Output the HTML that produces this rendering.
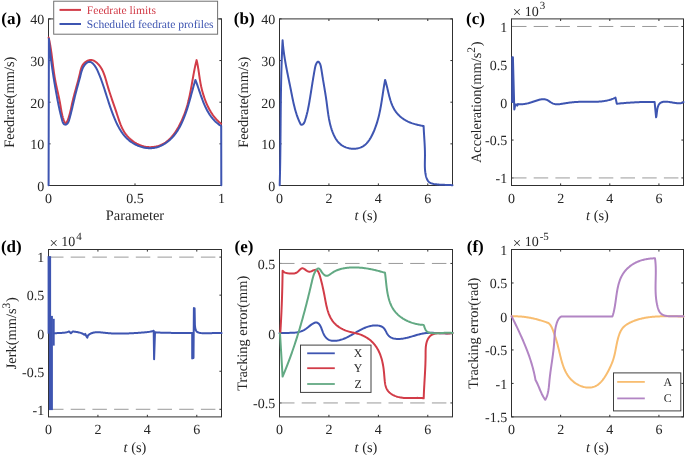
<!DOCTYPE html>
<html><head><meta charset="utf-8"><style>
html,body{margin:0;padding:0;background:#fff;}
svg{display:block;filter:blur(0.25px);font-family:"Liberation Serif",serif;text-rendering:geometricPrecision;}
</style></head><body>
<svg width="685" height="456" viewBox="0 0 685 456">
<rect width="685" height="456" fill="#fff"/>
<line x1="48.5" y1="185.5" x2="48.5" y2="183.4" stroke="#303030" stroke-width="1"/>
<line x1="48.5" y1="18.9" x2="48.5" y2="21" stroke="#303030" stroke-width="1"/>
<line x1="135" y1="185.5" x2="135" y2="183.4" stroke="#303030" stroke-width="1"/>
<line x1="135" y1="18.9" x2="135" y2="21" stroke="#303030" stroke-width="1"/>
<line x1="221.5" y1="185.5" x2="221.5" y2="183.4" stroke="#303030" stroke-width="1"/>
<line x1="221.5" y1="18.9" x2="221.5" y2="21" stroke="#303030" stroke-width="1"/>
<line x1="48.5" y1="185.5" x2="50.6" y2="185.5" stroke="#303030" stroke-width="1"/>
<line x1="221.5" y1="185.5" x2="219.4" y2="185.5" stroke="#303030" stroke-width="1"/>
<line x1="48.5" y1="143.85" x2="50.6" y2="143.85" stroke="#303030" stroke-width="1"/>
<line x1="221.5" y1="143.85" x2="219.4" y2="143.85" stroke="#303030" stroke-width="1"/>
<line x1="48.5" y1="102.2" x2="50.6" y2="102.2" stroke="#303030" stroke-width="1"/>
<line x1="221.5" y1="102.2" x2="219.4" y2="102.2" stroke="#303030" stroke-width="1"/>
<line x1="48.5" y1="60.55" x2="50.6" y2="60.55" stroke="#303030" stroke-width="1"/>
<line x1="221.5" y1="60.55" x2="219.4" y2="60.55" stroke="#303030" stroke-width="1"/>
<line x1="48.5" y1="18.9" x2="50.6" y2="18.9" stroke="#303030" stroke-width="1"/>
<line x1="221.5" y1="18.9" x2="219.4" y2="18.9" stroke="#303030" stroke-width="1"/>
<text x="48.5" y="202.7" font-size="14" text-anchor="middle" fill="#262626" font-weight="normal">0</text>
<text x="135" y="202.7" font-size="14" text-anchor="middle" fill="#262626" font-weight="normal">0.5</text>
<text x="221.5" y="202.7" font-size="14" text-anchor="middle" fill="#262626" font-weight="normal">1</text>
<text x="44.2" y="190.8" font-size="14" text-anchor="end" fill="#262626" font-weight="normal">0</text>
<text x="44.2" y="149.15" font-size="14" text-anchor="end" fill="#262626" font-weight="normal">10</text>
<text x="44.2" y="107.5" font-size="14" text-anchor="end" fill="#262626" font-weight="normal">20</text>
<text x="44.2" y="65.85" font-size="14" text-anchor="end" fill="#262626" font-weight="normal">30</text>
<text x="44.2" y="24.2" font-size="14" text-anchor="end" fill="#262626" font-weight="normal">40</text>
<line x1="279.5" y1="185.5" x2="279.5" y2="183.4" stroke="#303030" stroke-width="1"/>
<line x1="279.5" y1="18.9" x2="279.5" y2="21" stroke="#303030" stroke-width="1"/>
<line x1="328.93" y1="185.5" x2="328.93" y2="183.4" stroke="#303030" stroke-width="1"/>
<line x1="328.93" y1="18.9" x2="328.93" y2="21" stroke="#303030" stroke-width="1"/>
<line x1="378.36" y1="185.5" x2="378.36" y2="183.4" stroke="#303030" stroke-width="1"/>
<line x1="378.36" y1="18.9" x2="378.36" y2="21" stroke="#303030" stroke-width="1"/>
<line x1="427.79" y1="185.5" x2="427.79" y2="183.4" stroke="#303030" stroke-width="1"/>
<line x1="427.79" y1="18.9" x2="427.79" y2="21" stroke="#303030" stroke-width="1"/>
<line x1="279.5" y1="185.5" x2="281.6" y2="185.5" stroke="#303030" stroke-width="1"/>
<line x1="452.5" y1="185.5" x2="450.4" y2="185.5" stroke="#303030" stroke-width="1"/>
<line x1="279.5" y1="143.85" x2="281.6" y2="143.85" stroke="#303030" stroke-width="1"/>
<line x1="452.5" y1="143.85" x2="450.4" y2="143.85" stroke="#303030" stroke-width="1"/>
<line x1="279.5" y1="102.2" x2="281.6" y2="102.2" stroke="#303030" stroke-width="1"/>
<line x1="452.5" y1="102.2" x2="450.4" y2="102.2" stroke="#303030" stroke-width="1"/>
<line x1="279.5" y1="60.55" x2="281.6" y2="60.55" stroke="#303030" stroke-width="1"/>
<line x1="452.5" y1="60.55" x2="450.4" y2="60.55" stroke="#303030" stroke-width="1"/>
<line x1="279.5" y1="18.9" x2="281.6" y2="18.9" stroke="#303030" stroke-width="1"/>
<line x1="452.5" y1="18.9" x2="450.4" y2="18.9" stroke="#303030" stroke-width="1"/>
<text x="279.5" y="202.7" font-size="14" text-anchor="middle" fill="#262626" font-weight="normal">0</text>
<text x="328.93" y="202.7" font-size="14" text-anchor="middle" fill="#262626" font-weight="normal">2</text>
<text x="378.36" y="202.7" font-size="14" text-anchor="middle" fill="#262626" font-weight="normal">4</text>
<text x="427.79" y="202.7" font-size="14" text-anchor="middle" fill="#262626" font-weight="normal">6</text>
<text x="275.2" y="190.8" font-size="14" text-anchor="end" fill="#262626" font-weight="normal">0</text>
<text x="275.2" y="149.15" font-size="14" text-anchor="end" fill="#262626" font-weight="normal">10</text>
<text x="275.2" y="107.5" font-size="14" text-anchor="end" fill="#262626" font-weight="normal">20</text>
<text x="275.2" y="65.85" font-size="14" text-anchor="end" fill="#262626" font-weight="normal">30</text>
<text x="275.2" y="24.2" font-size="14" text-anchor="end" fill="#262626" font-weight="normal">40</text>
<line x1="511.5" y1="185.5" x2="511.5" y2="183.4" stroke="#303030" stroke-width="1"/>
<line x1="511.5" y1="18.9" x2="511.5" y2="21" stroke="#303030" stroke-width="1"/>
<line x1="560.64" y1="185.5" x2="560.64" y2="183.4" stroke="#303030" stroke-width="1"/>
<line x1="560.64" y1="18.9" x2="560.64" y2="21" stroke="#303030" stroke-width="1"/>
<line x1="609.79" y1="185.5" x2="609.79" y2="183.4" stroke="#303030" stroke-width="1"/>
<line x1="609.79" y1="18.9" x2="609.79" y2="21" stroke="#303030" stroke-width="1"/>
<line x1="658.93" y1="185.5" x2="658.93" y2="183.4" stroke="#303030" stroke-width="1"/>
<line x1="658.93" y1="18.9" x2="658.93" y2="21" stroke="#303030" stroke-width="1"/>
<line x1="511.5" y1="177.93" x2="513.6" y2="177.93" stroke="#303030" stroke-width="1"/>
<line x1="683.5" y1="177.93" x2="681.4" y2="177.93" stroke="#303030" stroke-width="1"/>
<line x1="511.5" y1="140.06" x2="513.6" y2="140.06" stroke="#303030" stroke-width="1"/>
<line x1="683.5" y1="140.06" x2="681.4" y2="140.06" stroke="#303030" stroke-width="1"/>
<line x1="511.5" y1="102.2" x2="513.6" y2="102.2" stroke="#303030" stroke-width="1"/>
<line x1="683.5" y1="102.2" x2="681.4" y2="102.2" stroke="#303030" stroke-width="1"/>
<line x1="511.5" y1="64.34" x2="513.6" y2="64.34" stroke="#303030" stroke-width="1"/>
<line x1="683.5" y1="64.34" x2="681.4" y2="64.34" stroke="#303030" stroke-width="1"/>
<line x1="511.5" y1="26.47" x2="513.6" y2="26.47" stroke="#303030" stroke-width="1"/>
<line x1="683.5" y1="26.47" x2="681.4" y2="26.47" stroke="#303030" stroke-width="1"/>
<text x="511.5" y="202.7" font-size="14" text-anchor="middle" fill="#262626" font-weight="normal">0</text>
<text x="560.64" y="202.7" font-size="14" text-anchor="middle" fill="#262626" font-weight="normal">2</text>
<text x="609.79" y="202.7" font-size="14" text-anchor="middle" fill="#262626" font-weight="normal">4</text>
<text x="658.93" y="202.7" font-size="14" text-anchor="middle" fill="#262626" font-weight="normal">6</text>
<text x="507.2" y="183.23" font-size="14" text-anchor="end" fill="#262626" font-weight="normal">-1</text>
<text x="507.2" y="145.36" font-size="14" text-anchor="end" fill="#262626" font-weight="normal">-0.5</text>
<text x="507.2" y="107.5" font-size="14" text-anchor="end" fill="#262626" font-weight="normal">0</text>
<text x="507.2" y="69.64" font-size="14" text-anchor="end" fill="#262626" font-weight="normal">0.5</text>
<text x="507.2" y="31.77" font-size="14" text-anchor="end" fill="#262626" font-weight="normal">1</text>
<line x1="48.5" y1="416.9" x2="48.5" y2="414.8" stroke="#303030" stroke-width="1"/>
<line x1="48.5" y1="249.5" x2="48.5" y2="251.6" stroke="#303030" stroke-width="1"/>
<line x1="97.93" y1="416.9" x2="97.93" y2="414.8" stroke="#303030" stroke-width="1"/>
<line x1="97.93" y1="249.5" x2="97.93" y2="251.6" stroke="#303030" stroke-width="1"/>
<line x1="147.36" y1="416.9" x2="147.36" y2="414.8" stroke="#303030" stroke-width="1"/>
<line x1="147.36" y1="249.5" x2="147.36" y2="251.6" stroke="#303030" stroke-width="1"/>
<line x1="196.79" y1="416.9" x2="196.79" y2="414.8" stroke="#303030" stroke-width="1"/>
<line x1="196.79" y1="249.5" x2="196.79" y2="251.6" stroke="#303030" stroke-width="1"/>
<line x1="48.5" y1="409.29" x2="50.6" y2="409.29" stroke="#303030" stroke-width="1"/>
<line x1="221.5" y1="409.29" x2="219.4" y2="409.29" stroke="#303030" stroke-width="1"/>
<line x1="48.5" y1="371.25" x2="50.6" y2="371.25" stroke="#303030" stroke-width="1"/>
<line x1="221.5" y1="371.25" x2="219.4" y2="371.25" stroke="#303030" stroke-width="1"/>
<line x1="48.5" y1="333.2" x2="50.6" y2="333.2" stroke="#303030" stroke-width="1"/>
<line x1="221.5" y1="333.2" x2="219.4" y2="333.2" stroke="#303030" stroke-width="1"/>
<line x1="48.5" y1="295.15" x2="50.6" y2="295.15" stroke="#303030" stroke-width="1"/>
<line x1="221.5" y1="295.15" x2="219.4" y2="295.15" stroke="#303030" stroke-width="1"/>
<line x1="48.5" y1="257.11" x2="50.6" y2="257.11" stroke="#303030" stroke-width="1"/>
<line x1="221.5" y1="257.11" x2="219.4" y2="257.11" stroke="#303030" stroke-width="1"/>
<text x="48.5" y="434.1" font-size="14" text-anchor="middle" fill="#262626" font-weight="normal">0</text>
<text x="97.93" y="434.1" font-size="14" text-anchor="middle" fill="#262626" font-weight="normal">2</text>
<text x="147.36" y="434.1" font-size="14" text-anchor="middle" fill="#262626" font-weight="normal">4</text>
<text x="196.79" y="434.1" font-size="14" text-anchor="middle" fill="#262626" font-weight="normal">6</text>
<text x="44.2" y="414.59" font-size="14" text-anchor="end" fill="#262626" font-weight="normal">-1</text>
<text x="44.2" y="376.55" font-size="14" text-anchor="end" fill="#262626" font-weight="normal">-0.5</text>
<text x="44.2" y="338.5" font-size="14" text-anchor="end" fill="#262626" font-weight="normal">0</text>
<text x="44.2" y="300.45" font-size="14" text-anchor="end" fill="#262626" font-weight="normal">0.5</text>
<text x="44.2" y="262.41" font-size="14" text-anchor="end" fill="#262626" font-weight="normal">1</text>
<line x1="279.5" y1="416.9" x2="279.5" y2="414.8" stroke="#303030" stroke-width="1"/>
<line x1="279.5" y1="249.5" x2="279.5" y2="251.6" stroke="#303030" stroke-width="1"/>
<line x1="328.93" y1="416.9" x2="328.93" y2="414.8" stroke="#303030" stroke-width="1"/>
<line x1="328.93" y1="249.5" x2="328.93" y2="251.6" stroke="#303030" stroke-width="1"/>
<line x1="378.36" y1="416.9" x2="378.36" y2="414.8" stroke="#303030" stroke-width="1"/>
<line x1="378.36" y1="249.5" x2="378.36" y2="251.6" stroke="#303030" stroke-width="1"/>
<line x1="427.79" y1="416.9" x2="427.79" y2="414.8" stroke="#303030" stroke-width="1"/>
<line x1="427.79" y1="249.5" x2="427.79" y2="251.6" stroke="#303030" stroke-width="1"/>
<line x1="279.5" y1="402.95" x2="281.6" y2="402.95" stroke="#303030" stroke-width="1"/>
<line x1="452.5" y1="402.95" x2="450.4" y2="402.95" stroke="#303030" stroke-width="1"/>
<line x1="279.5" y1="333.2" x2="281.6" y2="333.2" stroke="#303030" stroke-width="1"/>
<line x1="452.5" y1="333.2" x2="450.4" y2="333.2" stroke="#303030" stroke-width="1"/>
<line x1="279.5" y1="263.45" x2="281.6" y2="263.45" stroke="#303030" stroke-width="1"/>
<line x1="452.5" y1="263.45" x2="450.4" y2="263.45" stroke="#303030" stroke-width="1"/>
<text x="279.5" y="434.1" font-size="14" text-anchor="middle" fill="#262626" font-weight="normal">0</text>
<text x="328.93" y="434.1" font-size="14" text-anchor="middle" fill="#262626" font-weight="normal">2</text>
<text x="378.36" y="434.1" font-size="14" text-anchor="middle" fill="#262626" font-weight="normal">4</text>
<text x="427.79" y="434.1" font-size="14" text-anchor="middle" fill="#262626" font-weight="normal">6</text>
<text x="275.2" y="408.25" font-size="14" text-anchor="end" fill="#262626" font-weight="normal">-0.5</text>
<text x="275.2" y="338.5" font-size="14" text-anchor="end" fill="#262626" font-weight="normal">0</text>
<text x="275.2" y="268.75" font-size="14" text-anchor="end" fill="#262626" font-weight="normal">0.5</text>
<line x1="511.5" y1="416.9" x2="511.5" y2="414.8" stroke="#303030" stroke-width="1"/>
<line x1="511.5" y1="249.5" x2="511.5" y2="251.6" stroke="#303030" stroke-width="1"/>
<line x1="560.64" y1="416.9" x2="560.64" y2="414.8" stroke="#303030" stroke-width="1"/>
<line x1="560.64" y1="249.5" x2="560.64" y2="251.6" stroke="#303030" stroke-width="1"/>
<line x1="609.79" y1="416.9" x2="609.79" y2="414.8" stroke="#303030" stroke-width="1"/>
<line x1="609.79" y1="249.5" x2="609.79" y2="251.6" stroke="#303030" stroke-width="1"/>
<line x1="658.93" y1="416.9" x2="658.93" y2="414.8" stroke="#303030" stroke-width="1"/>
<line x1="658.93" y1="249.5" x2="658.93" y2="251.6" stroke="#303030" stroke-width="1"/>
<line x1="511.5" y1="416.9" x2="513.6" y2="416.9" stroke="#303030" stroke-width="1"/>
<line x1="683.5" y1="416.9" x2="681.4" y2="416.9" stroke="#303030" stroke-width="1"/>
<line x1="511.5" y1="383.42" x2="513.6" y2="383.42" stroke="#303030" stroke-width="1"/>
<line x1="683.5" y1="383.42" x2="681.4" y2="383.42" stroke="#303030" stroke-width="1"/>
<line x1="511.5" y1="349.94" x2="513.6" y2="349.94" stroke="#303030" stroke-width="1"/>
<line x1="683.5" y1="349.94" x2="681.4" y2="349.94" stroke="#303030" stroke-width="1"/>
<line x1="511.5" y1="316.46" x2="513.6" y2="316.46" stroke="#303030" stroke-width="1"/>
<line x1="683.5" y1="316.46" x2="681.4" y2="316.46" stroke="#303030" stroke-width="1"/>
<line x1="511.5" y1="282.98" x2="513.6" y2="282.98" stroke="#303030" stroke-width="1"/>
<line x1="683.5" y1="282.98" x2="681.4" y2="282.98" stroke="#303030" stroke-width="1"/>
<line x1="511.5" y1="249.5" x2="513.6" y2="249.5" stroke="#303030" stroke-width="1"/>
<line x1="683.5" y1="249.5" x2="681.4" y2="249.5" stroke="#303030" stroke-width="1"/>
<text x="511.5" y="434.1" font-size="14" text-anchor="middle" fill="#262626" font-weight="normal">0</text>
<text x="560.64" y="434.1" font-size="14" text-anchor="middle" fill="#262626" font-weight="normal">2</text>
<text x="609.79" y="434.1" font-size="14" text-anchor="middle" fill="#262626" font-weight="normal">4</text>
<text x="658.93" y="434.1" font-size="14" text-anchor="middle" fill="#262626" font-weight="normal">6</text>
<text x="507.2" y="422.2" font-size="14" text-anchor="end" fill="#262626" font-weight="normal">-1.5</text>
<text x="507.2" y="388.72" font-size="14" text-anchor="end" fill="#262626" font-weight="normal">-1</text>
<text x="507.2" y="355.24" font-size="14" text-anchor="end" fill="#262626" font-weight="normal">-0.5</text>
<text x="507.2" y="321.76" font-size="14" text-anchor="end" fill="#262626" font-weight="normal">0</text>
<text x="507.2" y="288.28" font-size="14" text-anchor="end" fill="#262626" font-weight="normal">0.5</text>
<text x="507.2" y="254.8" font-size="14" text-anchor="end" fill="#262626" font-weight="normal">1</text>
<rect x="48.5" y="18.9" width="173" height="166.6" fill="none" stroke="#303030" stroke-width="1"/>
<rect x="48.5" y="249.5" width="173" height="167.4" fill="none" stroke="#303030" stroke-width="1"/>
<rect x="279.5" y="18.9" width="173" height="166.6" fill="none" stroke="#303030" stroke-width="1"/>
<rect x="279.5" y="249.5" width="173" height="167.4" fill="none" stroke="#303030" stroke-width="1"/>
<rect x="511.5" y="18.9" width="172" height="166.6" fill="none" stroke="#303030" stroke-width="1"/>
<rect x="511.5" y="249.5" width="172" height="167.4" fill="none" stroke="#303030" stroke-width="1"/>
<line x1="512" y1="26.47" x2="683.5" y2="26.47" stroke="#9a9a9a" stroke-width="1" stroke-dasharray="14.5 7.2"/>
<line x1="512" y1="177.93" x2="683.5" y2="177.93" stroke="#9a9a9a" stroke-width="1" stroke-dasharray="14.5 7.2"/>
<line x1="49" y1="257.11" x2="221.5" y2="257.11" stroke="#9a9a9a" stroke-width="1" stroke-dasharray="14.5 7.2"/>
<line x1="49" y1="409.29" x2="221.5" y2="409.29" stroke="#9a9a9a" stroke-width="1" stroke-dasharray="14.5 7.2"/>
<line x1="280" y1="263.45" x2="452.5" y2="263.45" stroke="#9a9a9a" stroke-width="1" stroke-dasharray="14.5 7.2"/>
<line x1="280" y1="402.95" x2="452.5" y2="402.95" stroke="#9a9a9a" stroke-width="1" stroke-dasharray="14.5 7.2"/>
<path d="M48.6 37.4L48.78 38.18L48.96 38.96L49.14 39.74L49.31 40.52L49.47 41.31L49.63 42.09L49.78 42.88L49.93 43.66L50.08 44.45L50.22 45.24L50.36 46.03L50.49 46.82L50.62 47.61L50.75 48.41L50.87 49.2L50.99 50L51.11 50.79L51.23 51.59L51.34 52.38L51.45 53.18L51.56 53.98L51.67 54.77L51.77 55.57L51.88 56.37L51.98 57.17L52.08 57.97L52.18 58.77L52.28 59.57L52.38 60.37L52.48 61.17L52.58 61.97L52.68 62.77L52.78 63.57L52.88 64.37L52.98 65.16L53.08 65.96L53.18 66.76L53.28 67.56L53.38 68.36L53.49 69.16L53.59 69.95L53.7 70.75L53.81 71.55L53.93 72.34L54.04 73.14L54.16 73.93L54.28 74.73L54.4 75.52L54.53 76.31L54.66 77.1L54.79 77.89L54.93 78.68L55.07 79.47L55.21 80.26L55.36 81.05L55.51 81.83L55.67 82.62L55.83 83.4L55.99 84.18L56.15 84.97L56.32 85.75L56.49 86.53L56.66 87.31L56.83 88.09L57.01 88.87L57.18 89.66L57.36 90.44L57.53 91.22L57.71 92L57.88 92.78L58.06 93.57L58.23 94.35L58.4 95.13L58.58 95.92L58.75 96.71L58.91 97.49L59.08 98.28L59.24 99.07L59.4 99.86L59.56 100.65L59.71 101.45L59.86 102.24L60.01 103.04L60.15 103.84L60.29 104.64L60.43 105.44L60.56 106.25L60.69 107.05L60.83 107.85L60.96 108.65L61.1 109.45L61.24 110.25L61.38 111.05L61.53 111.84L61.69 112.64L61.85 113.42L62.03 114.21L62.21 114.99L62.4 115.76L62.61 116.53L62.82 117.29L63.05 118.05L63.3 118.8L63.56 119.54L63.84 120.28L64.14 121.01L64.45 121.72L64.79 122.43L65.16 123.06L65.6 123.31L66.13 123.05L66.63 122.5L67.06 121.8L67.42 121.01L67.75 120.19L68.05 119.36L68.34 118.54L68.61 117.73L68.87 116.93L69.12 116.13L69.35 115.34L69.57 114.56L69.78 113.78L69.98 113L70.17 112.23L70.36 111.46L70.53 110.7L70.71 109.93L70.88 109.17L71.04 108.41L71.21 107.64L71.37 106.88L71.53 106.12L71.7 105.35L71.87 104.58L72.03 103.81L72.21 103.03L72.39 102.25L72.57 101.46L72.76 100.68L72.95 99.89L73.14 99.1L73.33 98.31L73.53 97.52L73.73 96.73L73.94 95.94L74.14 95.15L74.35 94.37L74.56 93.58L74.77 92.8L74.98 92.02L75.19 91.24L75.41 90.46L75.62 89.69L75.84 88.91L76.05 88.14L76.26 87.37L76.48 86.59L76.69 85.82L76.9 85.05L77.12 84.28L77.33 83.51L77.54 82.74L77.75 81.96L77.95 81.19L78.16 80.42L78.36 79.65L78.56 78.87L78.76 78.1L78.95 77.32L79.15 76.54L79.34 75.76L79.52 74.98L79.71 74.2L79.89 73.41L80.06 72.63L80.24 71.84L80.42 71.06L80.62 70.28L80.83 69.5L81.06 68.74L81.31 67.98L81.6 67.24L81.92 66.51L82.28 65.79L82.68 65.1L83.13 64.42L83.64 63.77L84.21 63.15L84.82 62.55L85.48 62L86.17 61.5L86.9 61.05L87.65 60.67L88.42 60.36L89.21 60.13L89.99 59.98L90.78 59.93L91.56 59.98L92.32 60.13L93.07 60.38L93.8 60.7L94.52 61.09L95.2 61.53L95.87 62.01L96.51 62.53L97.12 63.06L97.7 63.61L98.26 64.18L98.79 64.76L99.3 65.37L99.78 65.98L100.25 66.61L100.69 67.26L101.11 67.92L101.51 68.59L101.89 69.27L102.26 69.97L102.61 70.68L102.94 71.39L103.26 72.12L103.57 72.85L103.86 73.6L104.14 74.35L104.41 75.1L104.68 75.87L104.93 76.63L105.18 77.41L105.42 78.19L105.65 78.97L105.88 79.75L106.11 80.54L106.33 81.32L106.55 82.11L106.77 82.9L106.99 83.69L107.22 84.47L107.44 85.26L107.67 86.04L107.9 86.82L108.13 87.59L108.37 88.37L108.6 89.14L108.84 89.92L109.09 90.68L109.33 91.45L109.58 92.22L109.83 92.99L110.08 93.75L110.33 94.51L110.58 95.27L110.83 96.03L111.09 96.79L111.35 97.55L111.6 98.31L111.86 99.07L112.12 99.82L112.38 100.58L112.64 101.33L112.9 102.09L113.16 102.84L113.42 103.6L113.68 104.35L113.94 105.11L114.2 105.86L114.46 106.62L114.72 107.38L114.98 108.13L115.24 108.89L115.5 109.65L115.76 110.4L116.01 111.16L116.27 111.92L116.52 112.68L116.77 113.45L117.02 114.21L117.27 114.97L117.52 115.74L117.77 116.5L118.02 117.27L118.27 118.04L118.52 118.8L118.78 119.56L119.04 120.32L119.3 121.08L119.57 121.84L119.85 122.59L120.13 123.34L120.42 124.09L120.71 124.83L121.02 125.57L121.33 126.31L121.66 127.03L121.99 127.76L122.34 128.47L122.69 129.18L123.07 129.88L123.45 130.58L123.85 131.27L124.26 131.95L124.69 132.62L125.14 133.28L125.6 133.93L126.08 134.57L126.58 135.2L127.1 135.83L127.63 136.44L128.18 137.04L128.74 137.62L129.33 138.2L129.92 138.76L130.53 139.3L131.16 139.84L131.79 140.35L132.44 140.86L133.11 141.34L133.78 141.82L134.46 142.27L135.16 142.71L135.87 143.13L136.58 143.53L137.31 143.91L138.04 144.28L138.78 144.62L139.53 144.95L140.28 145.25L141.05 145.54L141.81 145.8L142.59 146.04L143.36 146.25L144.15 146.45L144.93 146.62L145.72 146.77L146.51 146.89L147.31 146.99L148.1 147.06L148.9 147.11L149.69 147.14L150.49 147.14L151.28 147.12L152.08 147.07L152.87 147.01L153.66 146.92L154.44 146.8L155.22 146.67L156 146.51L156.77 146.33L157.54 146.12L158.3 145.9L159.05 145.65L159.79 145.38L160.53 145.1L161.26 144.79L161.97 144.46L162.68 144.1L163.38 143.73L164.07 143.34L164.74 142.93L165.4 142.5L166.05 142.05L166.69 141.58L167.31 141.09L167.93 140.59L168.53 140.07L169.12 139.53L169.7 138.98L170.26 138.41L170.82 137.83L171.36 137.24L171.9 136.63L172.42 136.01L172.94 135.38L173.44 134.74L173.93 134.08L174.42 133.42L174.89 132.75L175.36 132.08L175.81 131.39L176.26 130.7L176.7 130L177.13 129.3L177.55 128.59L177.96 127.87L178.37 127.16L178.76 126.44L179.15 125.71L179.54 124.99L179.91 124.27L180.28 123.54L180.64 122.81L180.99 122.09L181.34 121.36L181.68 120.63L182.01 119.9L182.34 119.17L182.66 118.43L182.97 117.7L183.28 116.96L183.58 116.23L183.88 115.49L184.17 114.75L184.45 114.01L184.73 113.26L185 112.52L185.26 111.77L185.52 111.02L185.77 110.27L186.02 109.52L186.26 108.76L186.5 108.01L186.73 107.25L186.96 106.49L187.18 105.72L187.39 104.96L187.61 104.19L187.81 103.42L188.01 102.65L188.21 101.88L188.41 101.1L188.59 100.32L188.78 99.54L188.96 98.76L189.14 97.98L189.31 97.2L189.48 96.41L189.65 95.63L189.82 94.84L189.98 94.05L190.14 93.26L190.3 92.47L190.45 91.68L190.6 90.88L190.76 90.09L190.9 89.3L191.05 88.5L191.2 87.71L191.34 86.91L191.48 86.11L191.63 85.32L191.77 84.52L191.91 83.72L192.05 82.93L192.19 82.13L192.33 81.33L192.47 80.53L192.61 79.74L192.75 78.94L192.89 78.14L193.03 77.35L193.17 76.55L193.31 75.76L193.46 74.96L193.6 74.17L193.75 73.38L193.89 72.59L194.04 71.8L194.19 71.01L194.35 70.22L194.5 69.43L194.66 68.64L194.82 67.86L194.98 67.08L195.15 66.29L195.32 65.51L195.49 64.73L195.67 63.96L195.85 63.18L196.03 62.41L196.22 61.64L196.41 60.87L196.6 60.1L196.6 60.1L196.79 60.89L196.97 61.69L197.14 62.49L197.31 63.28L197.47 64.08L197.62 64.88L197.77 65.68L197.91 66.49L198.04 67.29L198.18 68.09L198.3 68.9L198.43 69.7L198.55 70.51L198.67 71.32L198.79 72.12L198.91 72.93L199.02 73.73L199.14 74.54L199.25 75.34L199.37 76.15L199.49 76.95L199.61 77.76L199.73 78.56L199.86 79.36L199.99 80.16L200.12 80.96L200.26 81.76L200.4 82.56L200.54 83.36L200.69 84.15L200.85 84.95L201.01 85.74L201.17 86.53L201.35 87.32L201.53 88.11L201.71 88.9L201.9 89.69L202.1 90.47L202.31 91.26L202.53 92.04L202.75 92.82L202.98 93.6L203.22 94.38L203.46 95.15L203.71 95.93L203.96 96.7L204.23 97.47L204.5 98.24L204.77 99.01L205.05 99.78L205.34 100.54L205.64 101.31L205.94 102.07L206.25 102.82L206.57 103.58L206.9 104.33L207.23 105.07L207.57 105.82L207.92 106.55L208.28 107.29L208.65 108.02L209.02 108.74L209.41 109.46L209.8 110.17L210.2 110.87L210.62 111.57L211.04 112.27L211.47 112.95L211.92 113.63L212.37 114.3L212.83 114.97L213.31 115.62L213.79 116.27L214.29 116.91L214.8 117.54L215.32 118.16L215.85 118.77L216.4 119.37L216.95 119.96L217.52 120.54L218.1 121.11L218.69 121.67L219.3 122.22L219.92 122.76L220.55 123.29L221.2 123.8" fill="none" stroke="#d23c48" stroke-width="2.0" stroke-linejoin="round" stroke-linecap="round"/>
<path d="M48.6 185.3L48.9 38.8L48.9 38.8L48.96 39.59L49.03 40.39L49.09 41.18L49.16 41.97L49.23 42.77L49.3 43.56L49.37 44.36L49.45 45.15L49.52 45.95L49.6 46.74L49.68 47.54L49.76 48.33L49.84 49.13L49.92 49.93L50.01 50.73L50.1 51.52L50.18 52.32L50.27 53.12L50.36 53.92L50.46 54.71L50.55 55.51L50.64 56.31L50.74 57.11L50.84 57.91L50.94 58.71L51.04 59.5L51.14 60.3L51.24 61.1L51.35 61.9L51.45 62.7L51.56 63.49L51.67 64.29L51.77 65.09L51.88 65.89L52 66.69L52.11 67.48L52.22 68.28L52.34 69.08L52.45 69.87L52.57 70.67L52.69 71.47L52.81 72.26L52.93 73.06L53.05 73.85L53.17 74.65L53.29 75.44L53.42 76.24L53.54 77.03L53.67 77.82L53.79 78.62L53.92 79.41L54.05 80.2L54.18 80.99L54.31 81.78L54.44 82.57L54.57 83.36L54.71 84.15L54.84 84.94L54.98 85.73L55.11 86.52L55.25 87.3L55.38 88.09L55.52 88.87L55.66 89.66L55.8 90.44L55.94 91.23L56.08 92.01L56.22 92.79L56.36 93.57L56.5 94.35L56.64 95.13L56.78 95.91L56.93 96.68L57.07 97.46L57.22 98.24L57.37 99.01L57.51 99.79L57.66 100.57L57.81 101.34L57.96 102.12L58.12 102.9L58.27 103.68L58.43 104.46L58.59 105.24L58.75 106.02L58.92 106.81L59.09 107.59L59.26 108.38L59.43 109.17L59.6 109.96L59.78 110.76L59.96 111.55L60.15 112.35L60.34 113.15L60.53 113.96L60.73 114.77L60.93 115.58L61.13 116.39L61.34 117.21L61.55 118.04L61.76 118.86L61.98 119.69L62.21 120.53L62.45 121.34L62.73 122.12L63.04 122.83L63.41 123.47L63.84 123.99L64.36 124.38L64.96 124.62L65.61 124.64L66.27 124.43L66.9 124.02L67.47 123.48L67.94 122.84L68.33 122.14L68.65 121.38L68.92 120.6L69.17 119.79L69.4 118.98L69.63 118.18L69.86 117.38L70.07 116.58L70.29 115.78L70.5 114.99L70.7 114.2L70.91 113.41L71.1 112.63L71.3 111.84L71.49 111.06L71.68 110.28L71.87 109.5L72.05 108.72L72.23 107.94L72.41 107.17L72.59 106.39L72.77 105.62L72.95 104.85L73.13 104.07L73.3 103.3L73.48 102.53L73.66 101.76L73.83 100.99L74.01 100.22L74.19 99.45L74.37 98.67L74.56 97.9L74.74 97.13L74.93 96.36L75.12 95.58L75.31 94.81L75.51 94.03L75.71 93.25L75.91 92.47L76.11 91.7L76.32 90.92L76.52 90.14L76.73 89.36L76.94 88.57L77.15 87.79L77.37 87.01L77.58 86.23L77.79 85.45L78.01 84.67L78.22 83.89L78.43 83.11L78.65 82.33L78.86 81.55L79.07 80.78L79.28 80L79.49 79.23L79.7 78.45L79.91 77.68L80.11 76.91L80.31 76.14L80.51 75.37L80.71 74.6L80.91 73.84L81.1 73.08L81.3 72.32L81.51 71.56L81.74 70.81L81.99 70.06L82.26 69.31L82.56 68.57L82.9 67.83L83.28 67.1L83.71 66.37L84.19 65.65L84.72 64.94L85.31 64.25L85.94 63.6L86.6 63.02L87.29 62.53L88 62.15L88.71 61.9L89.43 61.81L90.15 61.88L90.85 62.12L91.53 62.49L92.19 62.97L92.83 63.54L93.43 64.16L94 64.81L94.53 65.47L95.02 66.14L95.48 66.83L95.92 67.52L96.32 68.22L96.71 68.93L97.07 69.64L97.41 70.36L97.75 71.09L98.07 71.82L98.38 72.55L98.69 73.28L99 74.02L99.3 74.76L99.59 75.5L99.89 76.24L100.17 76.98L100.46 77.73L100.74 78.47L101.02 79.22L101.3 79.97L101.57 80.72L101.84 81.47L102.11 82.23L102.37 82.98L102.63 83.74L102.89 84.5L103.15 85.25L103.41 86.01L103.66 86.77L103.91 87.53L104.17 88.3L104.42 89.06L104.66 89.82L104.91 90.58L105.16 91.35L105.4 92.11L105.65 92.88L105.89 93.64L106.14 94.41L106.38 95.18L106.62 95.94L106.87 96.71L107.11 97.47L107.36 98.24L107.6 99L107.85 99.77L108.09 100.54L108.34 101.3L108.59 102.07L108.84 102.83L109.09 103.59L109.34 104.36L109.6 105.12L109.85 105.88L110.11 106.64L110.37 107.4L110.63 108.16L110.9 108.92L111.16 109.68L111.43 110.43L111.71 111.19L111.98 111.94L112.26 112.69L112.54 113.44L112.83 114.19L113.12 114.94L113.41 115.69L113.71 116.43L114.01 117.17L114.32 117.92L114.62 118.65L114.94 119.39L115.26 120.13L115.58 120.86L115.91 121.59L116.24 122.32L116.58 123.05L116.92 123.77L117.27 124.49L117.63 125.21L118 125.92L118.37 126.63L118.75 127.33L119.13 128.03L119.53 128.72L119.93 129.41L120.34 130.09L120.76 130.76L121.2 131.43L121.64 132.09L122.09 132.74L122.55 133.38L123.02 134.02L123.51 134.64L124.01 135.26L124.51 135.87L125.03 136.47L125.57 137.05L126.11 137.63L126.67 138.2L127.25 138.75L127.84 139.3L128.44 139.83L129.06 140.35L129.69 140.85L130.33 141.34L130.99 141.82L131.66 142.29L132.34 142.74L133.04 143.17L133.74 143.6L134.45 144L135.18 144.39L135.91 144.76L136.65 145.12L137.4 145.46L138.16 145.78L138.92 146.08L139.69 146.37L140.46 146.63L141.24 146.88L142.03 147.11L142.81 147.32L143.6 147.5L144.4 147.67L145.19 147.81L145.99 147.94L146.79 148.04L147.59 148.12L148.38 148.18L149.18 148.21L149.98 148.22L150.77 148.2L151.56 148.17L152.35 148.1L153.14 148.01L153.92 147.9L154.69 147.76L155.46 147.6L156.23 147.42L156.99 147.21L157.75 146.98L158.5 146.73L159.24 146.46L159.98 146.17L160.71 145.86L161.43 145.52L162.15 145.17L162.86 144.8L163.56 144.42L164.25 144.01L164.93 143.59L165.6 143.15L166.27 142.7L166.92 142.23L167.57 141.75L168.2 141.25L168.83 140.74L169.44 140.22L170.04 139.68L170.63 139.13L171.21 138.57L171.78 138L172.34 137.42L172.88 136.82L173.41 136.22L173.93 135.61L174.44 134.99L174.93 134.36L175.42 133.72L175.89 133.08L176.36 132.42L176.81 131.76L177.26 131.09L177.69 130.42L178.11 129.73L178.53 129.05L178.94 128.35L179.33 127.65L179.72 126.95L180.1 126.24L180.48 125.52L180.84 124.8L181.2 124.08L181.55 123.35L181.89 122.62L182.22 121.89L182.55 121.15L182.88 120.42L183.19 119.68L183.5 118.93L183.81 118.19L184.1 117.45L184.4 116.7L184.69 115.95L184.97 115.2L185.25 114.45L185.52 113.7L185.79 112.95L186.05 112.19L186.31 111.44L186.57 110.68L186.82 109.92L187.07 109.16L187.31 108.4L187.55 107.64L187.79 106.88L188.03 106.11L188.26 105.35L188.49 104.58L188.71 103.82L188.94 103.05L189.16 102.28L189.38 101.52L189.6 100.75L189.81 99.98L190.03 99.21L190.24 98.44L190.45 97.67L190.66 96.9L190.88 96.12L191.08 95.35L191.29 94.58L191.5 93.81L191.71 93.03L191.92 92.26L192.13 91.49L192.34 90.72L192.55 89.94L192.76 89.17L192.97 88.39L193.18 87.62L193.4 86.85L193.61 86.08L193.83 85.3L194.05 84.53L194.27 83.76L194.49 82.98L194.71 82.21L194.94 81.44L195.17 80.67L195.4 79.9L195.4 79.9L195.69 80.64L195.98 81.39L196.26 82.14L196.54 82.89L196.81 83.65L197.09 84.41L197.36 85.18L197.63 85.94L197.9 86.72L198.16 87.49L198.43 88.27L198.69 89.04L198.96 89.82L199.22 90.6L199.49 91.39L199.75 92.17L200.02 92.95L200.29 93.74L200.55 94.52L200.83 95.3L201.1 96.09L201.38 96.87L201.66 97.65L201.94 98.43L202.22 99.2L202.51 99.98L202.81 100.75L203.11 101.52L203.41 102.29L203.72 103.05L204.04 103.81L204.36 104.57L204.69 105.32L205.02 106.07L205.36 106.82L205.71 107.55L206.07 108.29L206.43 109.02L206.8 109.74L207.18 110.45L207.57 111.16L207.97 111.87L208.38 112.56L208.8 113.25L209.23 113.93L209.67 114.61L210.12 115.27L210.58 115.93L211.05 116.58L211.54 117.22L212.04 117.85L212.55 118.47L213.07 119.08L213.61 119.68L214.16 120.27L214.72 120.85L215.3 121.42L215.89 121.98L216.5 122.52L217.12 123.06L217.76 123.58L218.42 124.09L219.09 124.59L219.77 125.07L220.48 125.54L221.2 126L221.2 126L221.3 185.3" fill="none" stroke="#3e55b1" stroke-width="2.0" stroke-linejoin="round" stroke-linecap="round"/>
<path d="M279.7 185.2L279.72 184.39L279.75 183.59L279.77 182.78L279.79 181.98L279.81 181.17L279.83 180.37L279.85 179.56L279.87 178.76L279.89 177.95L279.91 177.15L279.93 176.34L279.95 175.53L279.97 174.73L279.98 173.92L280 173.12L280.02 172.31L280.03 171.51L280.05 170.7L280.07 169.9L280.08 169.09L280.1 168.29L280.11 167.48L280.13 166.67L280.14 165.87L280.16 165.06L280.17 164.26L280.18 163.45L280.2 162.65L280.21 161.84L280.22 161.03L280.23 160.23L280.25 159.42L280.26 158.62L280.27 157.81L280.28 157.01L280.29 156.2L280.3 155.39L280.31 154.59L280.32 153.78L280.33 152.98L280.34 152.17L280.35 151.37L280.36 150.56L280.37 149.75L280.38 148.95L280.39 148.14L280.4 147.34L280.41 146.53L280.42 145.73L280.43 144.92L280.43 144.11L280.44 143.31L280.45 142.5L280.46 141.7L280.47 140.89L280.47 140.09L280.48 139.28L280.49 138.47L280.5 137.67L280.5 136.86L280.51 136.06L280.52 135.25L280.52 134.44L280.53 133.64L280.54 132.83L280.55 132.03L280.55 131.22L280.56 130.42L280.57 129.61L280.57 128.8L280.58 128L280.59 127.19L280.59 126.39L280.6 125.58L280.61 124.78L280.61 123.97L280.62 123.16L280.63 122.36L280.63 121.55L280.64 120.75L280.65 119.94L280.65 119.13L280.66 118.33L280.67 117.52L280.68 116.72L280.68 115.91L280.69 115.11L280.7 114.3L280.71 113.49L280.71 112.69L280.72 111.88L280.73 111.08L280.74 110.27L280.75 109.46L280.75 108.66L280.76 107.85L280.77 107.05L280.78 106.24L280.79 105.44L280.8 104.63L280.81 103.82L280.82 103.02L280.82 102.21L280.83 101.41L280.84 100.6L280.85 99.8L280.87 98.99L280.88 98.18L280.89 97.38L280.9 96.57L280.91 95.77L280.92 94.96L280.93 94.16L280.94 93.35L280.96 92.54L280.97 91.74L280.98 90.93L280.99 90.13L281.01 89.32L281.02 88.52L281.03 87.71L281.05 86.9L281.06 86.1L281.08 85.29L281.09 84.49L281.11 83.68L281.12 82.88L281.14 82.07L281.16 81.27L281.17 80.46L281.19 79.65L281.21 78.85L281.23 78.04L281.24 77.24L281.26 76.43L281.28 75.63L281.3 74.82L281.32 74.02L281.34 73.21L281.36 72.41L281.38 71.6L281.41 70.79L281.43 69.99L281.45 69.18L281.47 68.38L281.5 67.57L281.52 66.77L281.54 65.96L281.57 65.16L281.59 64.35L281.62 63.55L281.65 62.74L281.67 61.94L281.7 61.13L281.73 60.33L281.75 59.52L281.78 58.72L281.81 57.91L281.84 57.1L281.87 56.3L281.9 55.49L281.93 54.69L281.97 53.88L282 53.08L282.03 52.27L282.07 51.47L282.1 50.66L282.13 49.86L282.17 49.05L282.21 48.25L282.24 47.44L282.28 46.64L282.32 45.83L282.36 45.03L282.4 44.22L282.43 43.42L282.48 42.61L282.52 41.81L282.56 41L282.6 40.2L282.6 40.2L282.65 41L282.71 41.81L282.78 42.61L282.84 43.42L282.91 44.22L282.99 45.02L283.06 45.82L283.15 46.62L283.23 47.42L283.32 48.22L283.41 49.02L283.51 49.81L283.61 50.61L283.71 51.41L283.81 52.2L283.92 53L284.03 53.79L284.15 54.58L284.26 55.38L284.38 56.17L284.5 56.96L284.63 57.76L284.76 58.55L284.88 59.34L285.02 60.13L285.15 60.92L285.29 61.71L285.42 62.5L285.56 63.29L285.71 64.08L285.85 64.87L285.99 65.66L286.14 66.45L286.29 67.23L286.44 68.02L286.59 68.81L286.74 69.6L286.9 70.39L287.05 71.17L287.21 71.96L287.36 72.75L287.52 73.53L287.68 74.32L287.84 75.11L288 75.89L288.16 76.68L288.32 77.47L288.48 78.25L288.64 79.04L288.8 79.83L288.97 80.61L289.13 81.4L289.29 82.19L289.45 82.98L289.61 83.76L289.78 84.55L289.94 85.34L290.1 86.13L290.26 86.91L290.42 87.7L290.57 88.49L290.73 89.28L290.89 90.07L291.05 90.86L291.2 91.65L291.36 92.44L291.51 93.23L291.67 94.02L291.82 94.8L291.98 95.59L292.13 96.38L292.29 97.17L292.45 97.96L292.61 98.75L292.78 99.54L292.94 100.32L293.11 101.11L293.28 101.9L293.45 102.68L293.63 103.46L293.81 104.25L293.99 105.03L294.18 105.81L294.37 106.59L294.57 107.37L294.77 108.15L294.97 108.92L295.18 109.7L295.4 110.47L295.62 111.24L295.85 112.01L296.09 112.78L296.33 113.55L296.57 114.31L296.83 115.07L297.09 115.83L297.36 116.59L297.64 117.35L297.92 118.1L298.22 118.86L298.52 119.61L298.83 120.35L299.15 121.1L299.48 121.84L299.82 122.58L300.17 123.32L300.54 124.03L300.99 124.58L301.6 124.8L302.37 124.62L303.12 124.17L303.71 123.57L304.14 122.88L304.47 122.13L304.74 121.35L305.01 120.57L305.26 119.79L305.5 119.01L305.74 118.23L305.97 117.45L306.19 116.67L306.41 115.89L306.61 115.11L306.82 114.33L307.01 113.55L307.2 112.77L307.39 111.99L307.56 111.2L307.74 110.42L307.91 109.64L308.07 108.85L308.23 108.07L308.39 107.28L308.54 106.5L308.69 105.71L308.84 104.93L308.98 104.14L309.12 103.35L309.26 102.57L309.39 101.78L309.53 100.99L309.66 100.2L309.79 99.41L309.92 98.62L310.05 97.83L310.18 97.04L310.31 96.24L310.44 95.45L310.57 94.66L310.69 93.86L310.82 93.07L310.95 92.27L311.07 91.48L311.2 90.68L311.33 89.89L311.45 89.09L311.58 88.29L311.7 87.5L311.83 86.7L311.96 85.91L312.08 85.11L312.21 84.31L312.34 83.52L312.46 82.72L312.59 81.93L312.72 81.13L312.85 80.34L312.98 79.54L313.11 78.75L313.24 77.96L313.37 77.17L313.5 76.37L313.64 75.58L313.77 74.79L313.91 74L314.04 73.22L314.18 72.43L314.32 71.64L314.46 70.86L314.6 70.07L314.74 69.29L314.89 68.5L315.03 67.72L315.2 66.94L315.38 66.16L315.61 65.38L315.9 64.59L316.24 63.8L316.67 63.01L317.16 62.28L317.71 61.78L318.28 61.67L318.84 62L319.36 62.63L319.81 63.4L320.17 64.19L320.46 64.98L320.68 65.77L320.86 66.55L321.02 67.34L321.16 68.13L321.3 68.92L321.44 69.71L321.57 70.5L321.7 71.29L321.83 72.09L321.95 72.88L322.07 73.68L322.2 74.47L322.32 75.27L322.44 76.06L322.57 76.85L322.7 77.65L322.83 78.44L322.95 79.23L323.09 80.03L323.22 80.82L323.35 81.61L323.48 82.4L323.61 83.19L323.75 83.98L323.88 84.77L324.02 85.57L324.15 86.36L324.28 87.15L324.42 87.94L324.55 88.73L324.68 89.52L324.81 90.31L324.94 91.1L325.08 91.9L325.2 92.69L325.33 93.48L325.46 94.27L325.58 95.06L325.71 95.86L325.83 96.65L325.95 97.45L326.07 98.24L326.18 99.04L326.3 99.83L326.41 100.63L326.52 101.43L326.63 102.22L326.73 103.02L326.84 103.82L326.94 104.62L327.04 105.42L327.14 106.22L327.25 107.02L327.35 107.82L327.45 108.62L327.56 109.41L327.66 110.21L327.77 111.01L327.88 111.81L327.99 112.61L328.11 113.4L328.22 114.2L328.35 114.99L328.47 115.79L328.6 116.58L328.74 117.38L328.87 118.17L329.02 118.96L329.17 119.75L329.32 120.53L329.49 121.32L329.65 122.1L329.83 122.89L330.01 123.67L330.2 124.45L330.4 125.23L330.61 126L330.82 126.78L331.04 127.55L331.28 128.32L331.52 129.09L331.77 129.85L332.04 130.61L332.31 131.37L332.6 132.13L332.89 132.89L333.2 133.64L333.52 134.38L333.86 135.12L334.21 135.85L334.57 136.57L334.95 137.29L335.34 137.99L335.75 138.68L336.18 139.35L336.63 140.01L337.09 140.66L337.58 141.29L338.08 141.89L338.61 142.48L339.15 143.05L339.72 143.6L340.31 144.12L340.92 144.62L341.56 145.09L342.22 145.53L342.9 145.95L343.6 146.34L344.33 146.7L345.07 147.03L345.83 147.34L346.6 147.61L347.39 147.86L348.18 148.08L348.99 148.26L349.8 148.42L350.62 148.55L351.44 148.65L352.26 148.71L353.08 148.75L353.9 148.75L354.72 148.73L355.53 148.67L356.34 148.58L357.14 148.46L357.92 148.3L358.7 148.11L359.46 147.89L360.2 147.64L360.93 147.35L361.64 147.03L362.33 146.67L362.99 146.29L363.64 145.87L364.27 145.42L364.87 144.94L365.46 144.43L366.03 143.9L366.58 143.34L367.12 142.76L367.63 142.16L368.14 141.54L368.62 140.9L369.09 140.25L369.55 139.57L369.99 138.88L370.42 138.18L370.84 137.47L371.24 136.75L371.63 136.02L372.01 135.28L372.38 134.53L372.74 133.78L373.09 133.03L373.43 132.28L373.76 131.52L374.08 130.77L374.39 130.01L374.7 129.25L374.99 128.49L375.28 127.73L375.56 126.97L375.84 126.21L376.1 125.44L376.36 124.68L376.61 123.91L376.86 123.15L377.1 122.38L377.33 121.61L377.55 120.84L377.77 120.07L377.98 119.3L378.19 118.53L378.39 117.76L378.59 116.98L378.78 116.21L378.97 115.43L379.15 114.66L379.32 113.88L379.49 113.1L379.66 112.33L379.82 111.55L379.98 110.77L380.14 109.99L380.29 109.21L380.44 108.42L380.59 107.64L380.73 106.86L380.87 106.07L381 105.29L381.14 104.5L381.27 103.72L381.4 102.93L381.53 102.15L381.66 101.36L381.78 100.57L381.91 99.78L382.03 98.99L382.15 98.2L382.27 97.41L382.39 96.62L382.51 95.83L382.63 95.03L382.75 94.24L382.87 93.45L382.99 92.66L383.11 91.86L383.23 91.07L383.35 90.27L383.47 89.48L383.6 88.68L383.72 87.88L383.85 87.09L383.98 86.29L384.11 85.49L384.24 84.69L384.38 83.9L384.52 83.1L384.66 82.3L384.8 81.5L384.95 80.7L385.1 79.9L385.1 79.9L385.33 80.64L385.56 81.38L385.78 82.13L386 82.89L386.21 83.66L386.41 84.44L386.61 85.22L386.81 86.01L387 86.8L387.19 87.59L387.38 88.39L387.57 89.2L387.76 90L387.94 90.81L388.13 91.62L388.33 92.43L388.52 93.25L388.72 94.06L388.92 94.87L389.12 95.68L389.33 96.49L389.55 97.3L389.77 98.1L390 98.9L390.24 99.69L390.48 100.49L390.74 101.27L391 102.05L391.27 102.83L391.56 103.59L391.86 104.35L392.17 105.11L392.49 105.85L392.83 106.58L393.18 107.31L393.54 108.02L393.93 108.73L394.32 109.42L394.74 110.1L395.17 110.77L395.62 111.42L396.09 112.07L396.58 112.69L397.09 113.31L397.61 113.91L398.15 114.49L398.71 115.07L399.28 115.62L399.86 116.17L400.47 116.7L401.08 117.21L401.71 117.71L402.36 118.2L403.01 118.67L403.68 119.13L404.36 119.57L405.06 120L405.76 120.41L406.47 120.8L407.2 121.18L407.93 121.55L408.67 121.9L409.42 122.23L410.18 122.55L410.95 122.85L411.72 123.14L412.5 123.41L413.28 123.66L414.07 123.9L414.86 124.13L415.66 124.35L416.46 124.56L417.26 124.76L418.06 124.95L418.86 125.13L419.65 125.3L420.45 125.47L421.24 125.63L422.03 125.79L422.82 125.95L423.6 126.1L423.6 126.1L423.64 126.91L423.67 127.73L423.72 128.54L423.76 129.35L423.8 130.16L423.85 130.97L423.89 131.78L423.94 132.58L423.99 133.39L424.04 134.2L424.09 135L424.14 135.81L424.19 136.61L424.24 137.41L424.29 138.22L424.34 139.02L424.39 139.82L424.44 140.63L424.49 141.43L424.54 142.23L424.58 143.03L424.63 143.84L424.67 144.64L424.71 145.44L424.75 146.25L424.78 147.05L424.82 147.86L424.85 148.66L424.87 149.47L424.9 150.27L424.92 151.08L424.94 151.89L424.95 152.7L424.96 153.51L424.97 154.32L424.97 155.13L424.97 155.95L424.96 156.76L424.95 157.58L424.94 158.39L424.92 159.21L424.9 160.03L424.89 160.85L424.87 161.67L424.86 162.48L424.85 163.3L424.84 164.12L424.84 164.94L424.85 165.75L424.86 166.57L424.89 167.38L424.92 168.19L424.96 169L425.02 169.81L425.09 170.61L425.17 171.42L425.26 172.22L425.38 173.02L425.51 173.81L425.66 174.6L425.82 175.39L426.01 176.17L426.22 176.95L426.46 177.72L426.73 178.47L427.03 179.19L427.38 179.89L427.78 180.54L428.22 181.15L428.72 181.71L429.28 182.21L429.91 182.65L430.61 183.02L431.37 183.33L432.16 183.58L432.99 183.79L433.84 183.96L434.69 184.11L435.53 184.24L436.36 184.35L437.19 184.45L438.01 184.53L438.83 184.6L439.64 184.66L440.44 184.71L441.24 184.75L442.04 184.79L442.84 184.82L443.63 184.84L444.43 184.86L445.22 184.88L446.02 184.9L446.82 184.92L447.62 184.94L448.42 184.97L449.22 185L450.03 185.04L450.85 185.08L451.67 185.14L452.5 185.2" fill="none" stroke="#3e55b1" stroke-width="2.0" stroke-linejoin="round" stroke-linecap="round"/>
<path d="M512.2 102 L512.3 57.3 L512.9 57.3 L514.3 109.5 L515.4 104.4 L516.6 104.6 L517.2 105.6 L517.9 104.2" fill="none" stroke="#3e55b1" stroke-width="2.0" stroke-linejoin="round" stroke-linecap="round"/>
<path d="M517.9 104.2L518.74 104.26L519.57 104.3L520.39 104.31L521.21 104.29L522.02 104.24L522.82 104.18L523.63 104.09L524.42 103.98L525.21 103.85L526 103.7L526.79 103.54L527.57 103.36L528.35 103.17L529.13 102.96L529.9 102.74L530.68 102.51L531.46 102.28L532.23 102.03L533.01 101.78L533.78 101.53L534.56 101.27L535.34 101.01L536.13 100.75L536.91 100.49L537.7 100.23L538.48 99.99L539.27 99.77L540.05 99.58L540.84 99.41L541.61 99.29L542.39 99.2L543.16 99.16L543.92 99.18L544.67 99.26L545.42 99.4L546.15 99.61L546.88 99.9L547.6 100.26L548.3 100.67L549.01 101.11L549.71 101.58L550.41 102.04L551.12 102.49L551.83 102.91L552.55 103.29L553.27 103.61L554.01 103.85L554.76 104.04L555.51 104.17L556.28 104.26L557.05 104.29L557.83 104.29L558.61 104.25L559.4 104.19L560.19 104.1L560.98 103.99L561.78 103.86L562.58 103.73L563.38 103.6L564.18 103.47L564.98 103.33L565.78 103.2L566.59 103.08L567.39 102.95L568.19 102.83L569 102.72L569.8 102.61L570.61 102.5L571.42 102.4L572.22 102.31L573.03 102.23L573.84 102.15L574.65 102.08L575.47 102.02L576.28 101.97L577.09 101.93L577.91 101.89L578.73 101.86L579.54 101.84L580.36 101.82L581.18 101.81L582 101.8L582.81 101.8L583.63 101.8L584.45 101.8L585.27 101.81L586.09 101.81L586.91 101.82L587.73 101.83L588.55 101.83L589.36 101.84L590.18 101.85L591 101.85L591.81 101.85L592.63 101.84L593.44 101.84L594.26 101.82L595.07 101.81L595.88 101.78L596.69 101.75L597.5 101.72L598.3 101.67L599.11 101.62L599.91 101.56L600.72 101.49L601.52 101.41L602.31 101.32L603.11 101.22L603.91 101.11L604.7 100.98L605.49 100.85L606.27 100.69L607.06 100.53L607.84 100.35L608.62 100.15L609.4 99.94L610.17 99.71L610.94 99.47L611.71 99.2L612.47 98.92L613.24 98.62L613.99 98.3L614.75 97.96L615.5 97.6L615.5 97.6L616.8 103.8L616.8 103.8L617.62 103.71L618.44 103.62L619.26 103.54L620.08 103.45L620.89 103.37L621.71 103.29L622.53 103.22L623.35 103.14L624.17 103.07L624.99 103L625.81 102.94L626.63 102.87L627.45 102.81L628.28 102.75L629.1 102.69L629.92 102.63L630.74 102.58L631.56 102.53L632.38 102.48L633.2 102.43L634.02 102.38L634.85 102.34L635.67 102.3L636.49 102.26L637.31 102.22L638.13 102.18L638.96 102.15L639.78 102.12L640.6 102.09L641.42 102.06L642.25 102.04L643.07 102.02L643.89 102L644.72 101.98L645.54 101.96L646.36 101.94L647.19 101.93L648.01 101.92L648.83 101.91L649.66 101.9L650.48 101.9L651.3 101.89L652.13 101.89L652.95 101.89L653.78 101.9L654.6 101.9L654.6 101.9L656.1 117.3L656.1 117.3L656.27 116.68L656.41 115.99L656.53 115.24L656.63 114.45L656.73 113.61L656.83 112.75L656.93 111.86L657.04 110.97L657.16 110.07L657.31 109.17L657.48 108.29L657.69 107.44L657.93 106.62L658.22 105.84L658.55 105.11L658.94 104.44L659.4 103.84L659.91 103.32L660.49 102.87L661.12 102.49L661.8 102.19L662.53 101.96L663.29 101.8L664.09 101.7L664.93 101.65L665.79 101.65L666.68 101.7L667.59 101.78L668.52 101.88L669.46 102.02L670.4 102.17L671.36 102.33L672.31 102.5L673.26 102.67L674.2 102.83L675.13 102.98L676.05 103.1L676.95 103.21L677.82 103.28L678.67 103.32L679.48 103.31L680.26 103.25L681.01 103.14L681.7 102.96L682.35 102.72L682.95 102.4L683.5 102" fill="none" stroke="#3e55b1" stroke-width="2.0" stroke-linejoin="round" stroke-linecap="round"/>
<rect x="47.6" y="256.2" width="3.5" height="77.5" fill="#3e55b1"/>
<rect x="48.9" y="315.9" width="4" height="94.2" fill="#3e55b1"/>
<rect x="52.5" y="318.8" width="2.2" height="26.8" fill="#3e55b1"/>
<path d="M54.8 333.3L55.64 333.23L56.49 333.17L57.33 333.12L58.19 333.08L59.04 333.04L59.89 333L60.75 332.95L61.6 332.9L62.45 332.83L63.3 332.76L64.15 332.66L64.99 332.54L65.82 332.4L66.65 332.23L67.48 332.02L68.29 331.78L69.1 331.5L69.1 331.5L70.9 333.3L70.9 333.3L72.8 331.5L72.8 331.5L73.67 331.59L74.54 331.69L75.41 331.8L76.28 331.92L77.16 332.06L78.02 332.22L78.88 332.41L79.73 332.62L80.57 332.88L81.39 333.17L82.2 333.5L82.99 333.88L83.76 334.31L84.5 334.8L84.5 334.8L85.3 333.9L85.3 333.9L86.3 336.2L86.3 336.2L87.3 337.6L87.3 337.6L88 335.4L88 335.4L88.66 334.83L89.34 334.33L90.04 333.9L90.76 333.52L91.5 333.2L92.25 332.94L93.01 332.72L93.79 332.54L94.57 332.41L95.36 332.31L96.15 332.25L96.95 332.22L97.75 332.21L98.55 332.23L99.36 332.27L100.17 332.33L100.98 332.4L101.79 332.49L102.61 332.58L103.42 332.67L104.24 332.77L105.06 332.86L105.87 332.95L106.69 333.03L107.5 333.11L108.32 333.18L109.13 333.24L109.95 333.3L110.76 333.35L111.58 333.4L112.39 333.44L113.21 333.48L114.02 333.51L114.83 333.54L115.65 333.56L116.46 333.58L117.27 333.59L118.09 333.6L118.9 333.61L119.71 333.61L120.53 333.61L121.34 333.6L122.15 333.59L122.97 333.57L123.78 333.56L124.59 333.54L125.4 333.51L126.22 333.48L127.03 333.46L127.84 333.42L128.65 333.39L129.46 333.35L130.28 333.31L131.09 333.27L131.9 333.23L132.71 333.18L133.52 333.14L134.34 333.09L135.15 333.04L135.96 332.99L136.77 332.94L137.58 332.88L138.39 332.83L139.21 332.77L140.02 332.72L140.83 332.66L141.64 332.61L142.45 332.55L143.27 332.49L144.08 332.43L144.89 332.36L145.7 332.28L146.5 332.19L147.31 332.1L148.12 331.99L148.92 331.87L149.72 331.74L150.52 331.59L151.32 331.42L152.12 331.23L152.91 331.03L153.7 330.8L153.7 330.8L154.1 359.3L154.1 359.3L155 332.3L155 332.3L155.83 332.36L156.65 332.41L157.48 332.47L158.3 332.51L159.13 332.56L159.95 332.6L160.78 332.63L161.6 332.67L162.43 332.7L163.26 332.73L164.08 332.75L164.91 332.78L165.74 332.8L166.56 332.81L167.39 332.83L168.22 332.84L169.04 332.85L169.87 332.86L170.7 332.87L171.52 332.88L172.35 332.89L173.18 332.89L174.01 332.89L174.83 332.9L175.66 332.9L176.49 332.9L177.31 332.9L178.14 332.9L178.97 332.9L179.8 332.9L180.62 332.9L181.45 332.9L182.28 332.9L183.11 332.9L183.93 332.91L184.76 332.91L185.59 332.91L186.41 332.92L187.24 332.93L188.07 332.93L188.89 332.94L189.72 332.95L190.55 332.97L191.37 332.98L192.2 333L192.2 333L192.2 358.4L192.2 358.4L193.5 358L193.5 358L193.9 308L193.9 308L194.6 308.4L194.6 308.4L194.9 325L194.9 325L194.97 325.64L195.05 326.41L195.15 327.28L195.29 328.19L195.48 329.1L195.74 329.98L196.1 330.77L196.57 331.43L197.14 331.94L197.81 332.32L198.56 332.57L199.34 332.75L200.12 332.9L200.92 333.03L201.72 333.13L202.52 333.21L203.33 333.27L204.15 333.31L204.97 333.33L205.79 333.34L206.62 333.34L207.45 333.32L208.28 333.3L209.12 333.26L209.95 333.23L210.79 333.18L211.63 333.14L212.46 333.09L213.3 333.05L214.13 333.01L214.97 332.97L215.8 332.95L216.62 332.93L217.45 332.92L218.27 332.92L219.08 332.94L219.89 332.98L220.7 333.03L221.5 333.1" fill="none" stroke="#3e55b1" stroke-width="2.0" stroke-linejoin="round" stroke-linecap="round"/>
<path d="M279.5 333.2L280.27 333.12L281.04 333.06L281.82 333.01L282.61 332.98L283.41 332.95L284.21 332.93L285.01 332.92L285.82 332.91L286.64 332.9L287.45 332.9L288.27 332.89L289.09 332.89L289.91 332.87L290.73 332.86L291.55 332.83L292.37 332.8L293.19 332.76L294 332.7L294.81 332.63L295.62 332.54L296.42 332.43L297.21 332.31L298 332.16L298.78 332L299.56 331.8L300.32 331.58L301.08 331.34L301.82 331.06L302.56 330.75L303.28 330.41L304 330.03L304.7 329.62L305.38 329.18L306.06 328.71L306.73 328.22L307.4 327.71L308.06 327.2L308.71 326.68L309.37 326.16L310.02 325.65L310.67 325.15L311.33 324.67L311.99 324.21L312.65 323.78L313.33 323.39L314.01 323.04L314.69 322.75L315.38 322.56L316.05 322.49L316.72 322.57L317.36 322.79L317.98 323.13L318.55 323.56L319.07 324.06L319.54 324.63L319.96 325.26L320.36 325.94L320.72 326.67L321.06 327.43L321.37 328.22L321.68 329.03L321.99 329.85L322.29 330.68L322.6 331.51L322.92 332.33L323.27 333.14L323.64 333.92L324.03 334.68L324.45 335.41L324.89 336.11L325.37 336.77L325.87 337.4L326.4 337.98L326.96 338.51L327.56 338.99L328.18 339.42L328.84 339.8L329.53 340.11L330.26 340.36L331.01 340.56L331.78 340.7L332.58 340.79L333.39 340.84L334.21 340.85L335.03 340.82L335.86 340.75L336.68 340.65L337.5 340.53L338.31 340.39L339.11 340.22L339.89 340.03L340.67 339.82L341.44 339.6L342.2 339.35L342.95 339.09L343.7 338.81L344.44 338.52L345.17 338.21L345.89 337.89L346.61 337.55L347.33 337.21L348.04 336.85L348.75 336.49L349.46 336.11L350.16 335.73L350.86 335.35L351.56 334.95L352.25 334.56L352.95 334.15L353.64 333.75L354.34 333.34L355.04 332.94L355.74 332.53L356.44 332.13L357.14 331.72L357.85 331.32L358.56 330.93L359.27 330.54L359.99 330.15L360.71 329.77L361.43 329.4L362.16 329.04L362.9 328.69L363.63 328.35L364.38 328.03L365.12 327.72L365.87 327.42L366.62 327.14L367.38 326.88L368.14 326.63L368.91 326.41L369.68 326.2L370.45 326.02L371.23 325.86L372.01 325.72L372.8 325.61L373.59 325.52L374.38 325.46L375.18 325.43L375.99 325.43L376.79 325.46L377.6 325.52L378.41 325.62L379.21 325.76L379.99 325.95L380.75 326.19L381.48 326.49L382.18 326.85L382.83 327.27L383.43 327.77L383.98 328.34L384.48 328.98L384.94 329.67L385.38 330.39L385.79 331.14L386.2 331.9L386.6 332.66L387.02 333.4L387.45 334.11L387.92 334.77L388.41 335.38L388.95 335.94L389.52 336.44L390.12 336.89L390.75 337.29L391.4 337.64L392.09 337.95L392.8 338.21L393.53 338.43L394.28 338.61L395.05 338.76L395.84 338.86L396.64 338.94L397.45 338.98L398.27 338.99L399.1 338.97L399.94 338.93L400.78 338.86L401.63 338.77L402.47 338.66L403.32 338.53L404.16 338.38L404.99 338.22L405.82 338.05L406.64 337.87L407.45 337.67L408.25 337.47L409.04 337.27L409.82 337.05L410.6 336.84L411.38 336.61L412.15 336.39L412.91 336.16L413.67 335.94L414.42 335.71L415.18 335.48L415.93 335.26L416.68 335.04L417.43 334.83L418.18 334.62L418.93 334.42L419.69 334.22L420.44 334.04L421.2 333.86L421.96 333.7L422.72 333.55L423.49 333.41L424.27 333.29L425.05 333.18L425.84 333.08L426.63 333.01L427.43 332.95L428.24 332.9L429.05 332.87L429.86 332.85L430.68 332.84L431.51 332.84L432.33 332.85L433.16 332.86L433.99 332.89L434.83 332.92L435.66 332.95L436.49 332.99L437.33 333.03L438.16 333.08L438.99 333.12L439.83 333.17L440.66 333.21L441.48 333.25L442.31 333.29L443.13 333.32L443.94 333.35L444.75 333.37L445.56 333.38L446.36 333.39L447.15 333.38L447.94 333.37L448.72 333.34L449.5 333.3L450.26 333.25L451.02 333.18L451.76 333.1L452.5 333" fill="none" stroke="#3e55b1" stroke-width="2.0" stroke-linejoin="round" stroke-linecap="round"/>
<path d="M280.3 333.2L280.35 332.39L280.4 331.58L280.45 330.77L280.5 329.96L280.55 329.15L280.59 328.34L280.64 327.53L280.69 326.72L280.73 325.91L280.78 325.1L280.82 324.29L280.87 323.48L280.91 322.67L280.95 321.86L281 321.05L281.04 320.24L281.08 319.43L281.12 318.62L281.16 317.82L281.2 317.01L281.24 316.2L281.28 315.39L281.32 314.58L281.36 313.77L281.4 312.95L281.43 312.14L281.47 311.33L281.5 310.52L281.54 309.71L281.57 308.9L281.61 308.09L281.64 307.28L281.68 306.47L281.71 305.66L281.74 304.85L281.77 304.04L281.8 303.23L281.83 302.42L281.86 301.61L281.89 300.8L281.92 299.99L281.95 299.18L281.98 298.37L282 297.56L282.03 296.75L282.06 295.94L282.08 295.13L282.11 294.32L282.13 293.51L282.16 292.7L282.18 291.89L282.2 291.07L282.22 290.26L282.25 289.45L282.27 288.64L282.29 287.83L282.31 287.02L282.33 286.21L282.35 285.4L282.37 284.59L282.38 283.78L282.4 282.97L282.42 282.16L282.43 281.34L282.45 280.53L282.47 279.72L282.48 278.91L282.5 278.1L282.51 277.29L282.52 276.48L282.54 275.67L282.55 274.86L282.56 274.04L282.57 273.23L282.58 272.42L282.59 271.61L282.6 270.8L282.6 270.8L283.13 271.37L283.72 271.85L284.36 272.25L285.06 272.59L285.8 272.86L286.58 273.07L287.38 273.24L288.21 273.36L289.06 273.45L289.91 273.51L290.77 273.55L291.63 273.57L292.47 273.57L293.3 273.54L294.11 273.45L294.9 273.3L295.66 273.07L296.39 272.74L297.08 272.3L297.74 271.77L298.37 271.19L298.98 270.59L299.57 270L300.14 269.45L300.72 268.97L301.28 268.59L301.86 268.35L302.44 268.27L303.03 268.37L303.63 268.62L304.25 268.99L304.89 269.43L305.55 269.91L306.23 270.4L306.93 270.85L307.65 271.24L308.4 271.53L309.18 271.67L309.99 271.64L310.81 271.45L311.65 271.15L312.48 270.79L313.3 270.42L314.08 270.1L314.81 269.87L315.49 269.78L316.11 269.85L316.66 270.07L317.17 270.42L317.62 270.89L318.03 271.45L318.41 272.1L318.75 272.81L319.06 273.57L319.36 274.36L319.63 275.17L319.89 275.99L320.14 276.82L320.37 277.65L320.6 278.48L320.82 279.31L321.03 280.12L321.24 280.93L321.44 281.73L321.64 282.52L321.83 283.31L322.02 284.09L322.21 284.86L322.39 285.62L322.56 286.39L322.74 287.15L322.91 287.91L323.08 288.66L323.24 289.42L323.4 290.17L323.56 290.93L323.72 291.69L323.87 292.45L324.02 293.22L324.17 293.99L324.32 294.76L324.47 295.54L324.61 296.33L324.76 297.12L324.9 297.91L325.05 298.71L325.2 299.52L325.35 300.32L325.5 301.13L325.65 301.94L325.81 302.75L325.98 303.56L326.14 304.37L326.32 305.17L326.5 305.98L326.69 306.78L326.89 307.58L327.09 308.38L327.3 309.18L327.53 309.96L327.76 310.75L328.01 311.53L328.26 312.3L328.53 313.06L328.81 313.82L329.11 314.56L329.42 315.3L329.74 316.03L330.08 316.75L330.44 317.46L330.81 318.16L331.2 318.84L331.61 319.51L332.03 320.17L332.48 320.82L332.94 321.45L333.43 322.06L333.94 322.66L334.47 323.25L335.02 323.81L335.59 324.36L336.18 324.9L336.79 325.41L337.41 325.91L338.06 326.4L338.71 326.87L339.39 327.32L340.07 327.75L340.77 328.17L341.48 328.57L342.21 328.95L342.94 329.32L343.68 329.67L344.43 330L345.18 330.32L345.94 330.62L346.71 330.9L347.47 331.17L348.25 331.42L349.02 331.65L349.8 331.87L350.57 332.07L351.35 332.26L352.12 332.43L352.9 332.6L353.67 332.77L354.44 332.94L355.21 333.11L355.98 333.29L356.75 333.48L357.52 333.67L358.29 333.89L359.05 334.12L359.81 334.37L360.57 334.65L361.32 334.94L362.07 335.25L362.81 335.58L363.54 335.92L364.27 336.29L364.99 336.67L365.7 337.07L366.4 337.49L367.1 337.92L367.78 338.37L368.45 338.84L369.1 339.32L369.75 339.82L370.38 340.33L370.99 340.86L371.59 341.4L372.18 341.96L372.74 342.53L373.29 343.11L373.83 343.71L374.34 344.32L374.84 344.94L375.32 345.58L375.79 346.22L376.24 346.88L376.68 347.55L377.1 348.22L377.5 348.91L377.89 349.61L378.27 350.31L378.63 351.03L378.98 351.75L379.31 352.48L379.63 353.21L379.94 353.95L380.23 354.7L380.52 355.46L380.78 356.21L381.04 356.98L381.28 357.75L381.52 358.52L381.74 359.29L381.95 360.07L382.15 360.85L382.33 361.63L382.51 362.42L382.68 363.2L382.83 363.99L382.98 364.77L383.12 365.56L383.25 366.34L383.37 367.13L383.48 367.91L383.58 368.7L383.68 369.48L383.77 370.27L383.86 371.06L383.94 371.85L384.02 372.65L384.09 373.44L384.16 374.25L384.23 375.05L384.3 375.87L384.37 376.69L384.44 377.51L384.51 378.34L384.58 379.18L384.66 380.03L384.75 380.88L384.84 381.72L384.95 382.56L385.08 383.4L385.23 384.23L385.4 385.04L385.59 385.85L385.81 386.63L386.07 387.39L386.36 388.13L386.69 388.85L387.05 389.53L387.46 390.19L387.91 390.82L388.4 391.41L388.92 391.98L389.48 392.52L390.06 393.03L390.68 393.52L391.32 393.97L391.99 394.4L392.68 394.81L393.39 395.18L394.12 395.53L394.87 395.86L395.63 396.16L396.41 396.43L397.19 396.68L397.99 396.91L398.79 397.12L399.59 397.3L400.4 397.46L401.2 397.59L402.01 397.71L402.82 397.8L403.62 397.88L404.43 397.94L405.23 397.99L406.03 398.02L406.84 398.04L407.64 398.05L408.44 398.05L409.24 398.04L410.05 398.03L410.85 398.01L411.65 397.99L412.45 397.97L413.26 397.94L414.06 397.92L414.86 397.9L415.66 397.89L416.46 397.88L417.27 397.87L418.07 397.88L418.87 397.9L419.68 397.93L420.48 397.97L421.28 398.03L422.09 398.1L422.89 398.19L423.7 398.3L423.7 398.3L423.73 397.47L423.75 396.64L423.78 395.82L423.81 395L423.84 394.18L423.88 393.36L423.91 392.54L423.95 391.73L423.99 390.92L424.03 390.11L424.07 389.3L424.11 388.5L424.15 387.7L424.19 386.89L424.24 386.09L424.28 385.29L424.33 384.5L424.37 383.7L424.42 382.9L424.46 382.11L424.51 381.31L424.56 380.52L424.6 379.72L424.65 378.93L424.7 378.14L424.74 377.34L424.79 376.55L424.83 375.76L424.88 374.97L424.92 374.17L424.97 373.38L425.01 372.58L425.05 371.79L425.09 370.99L425.13 370.2L425.17 369.4L425.21 368.6L425.25 367.8L425.28 367L425.32 366.19L425.35 365.39L425.38 364.58L425.41 363.77L425.43 362.96L425.46 362.15L425.48 361.34L425.51 360.52L425.52 359.7L425.54 358.88L425.56 358.06L425.57 357.23L425.58 356.4L425.59 355.57L425.59 354.74L425.59 353.9L425.6 353.06L425.6 352.22L425.61 351.38L425.63 350.54L425.65 349.7L425.69 348.87L425.73 348.04L425.79 347.22L425.87 346.4L425.97 345.6L426.09 344.8L426.23 344.01L426.4 343.23L426.59 342.47L426.81 341.71L427.07 340.98L427.35 340.25L427.67 339.55L428.03 338.86L428.43 338.19L428.87 337.55L429.34 336.94L429.85 336.37L430.4 335.84L430.99 335.35L431.62 334.91L432.28 334.53L432.99 334.21L433.73 333.94L434.5 333.72L435.29 333.55L436.1 333.42L436.93 333.32L437.77 333.25L438.61 333.21L439.46 333.19L440.31 333.18L441.15 333.19L442 333.21L442.84 333.24L443.68 333.27L444.51 333.3L445.34 333.33L446.17 333.36L446.99 333.38L447.8 333.4L448.61 333.4L449.41 333.38L450.19 333.35L450.97 333.29L451.74 333.21L452.5 333.1" fill="none" stroke="#d23c48" stroke-width="2.0" stroke-linejoin="round" stroke-linecap="round"/>
<path d="M280 333.2L282.6 376.6L282.6 376.6L282.92 375.85L283.23 375.11L283.54 374.36L283.85 373.61L284.16 372.86L284.47 372.11L284.78 371.37L285.08 370.62L285.38 369.87L285.68 369.12L285.98 368.37L286.28 367.62L286.58 366.87L286.87 366.12L287.16 365.36L287.45 364.61L287.74 363.86L288.03 363.11L288.32 362.36L288.6 361.6L288.89 360.85L289.17 360.1L289.45 359.34L289.73 358.59L290.01 357.84L290.28 357.08L290.56 356.33L290.83 355.57L291.1 354.82L291.37 354.06L291.64 353.31L291.91 352.55L292.18 351.79L292.44 351.03L292.7 350.28L292.97 349.52L293.23 348.76L293.49 348L293.74 347.24L294 346.49L294.26 345.73L294.51 344.97L294.76 344.21L295.01 343.45L295.26 342.68L295.51 341.92L295.76 341.16L296.01 340.4L296.25 339.64L296.5 338.88L296.74 338.11L296.98 337.35L297.22 336.59L297.46 335.82L297.7 335.06L297.94 334.29L298.17 333.53L298.41 332.76L298.64 332L298.88 331.23L299.11 330.46L299.34 329.7L299.57 328.93L299.79 328.16L300.02 327.4L300.25 326.63L300.47 325.86L300.7 325.09L300.92 324.32L301.14 323.55L301.36 322.78L301.58 322.01L301.8 321.24L302.02 320.47L302.24 319.7L302.46 318.92L302.67 318.15L302.89 317.38L303.1 316.6L303.31 315.83L303.52 315.06L303.73 314.28L303.94 313.51L304.15 312.73L304.36 311.96L304.57 311.18L304.78 310.4L304.98 309.63L305.19 308.85L305.39 308.07L305.6 307.3L305.8 306.52L306 305.74L306.2 304.96L306.4 304.18L306.6 303.4L306.8 302.62L307 301.84L307.2 301.06L307.39 300.27L307.59 299.49L307.79 298.71L307.98 297.93L308.18 297.14L308.37 296.36L308.56 295.58L308.76 294.79L308.95 294.01L309.14 293.22L309.33 292.43L309.52 291.65L309.71 290.86L309.9 290.07L310.09 289.29L310.28 288.5L310.46 287.71L310.65 286.92L310.84 286.13L311.02 285.34L311.21 284.55L311.39 283.76L311.58 282.97L311.76 282.18L311.95 281.39L312.13 280.59L312.32 279.8L312.52 279.02L312.72 278.23L312.93 277.46L313.16 276.69L313.39 275.93L313.65 275.17L313.93 274.43L314.22 273.7L314.55 272.98L314.89 272.28L315.27 271.59L315.67 270.93L316.11 270.27L316.58 269.64L317.09 269.04L317.64 268.58L318.24 268.39L318.87 268.55L319.49 268.96L320.06 269.52L320.56 270.16L321.02 270.86L321.49 271.59L321.99 272.36L322.57 273.15L323.21 273.9L323.89 274.58L324.59 275.13L325.28 275.51L325.96 275.72L326.63 275.78L327.3 275.71L327.96 275.52L328.62 275.24L329.28 274.88L329.94 274.46L330.6 274L331.27 273.52L331.94 273.03L332.63 272.56L333.32 272.12L334.02 271.7L334.74 271.31L335.46 270.94L336.19 270.6L336.93 270.28L337.67 269.98L338.43 269.71L339.19 269.45L339.95 269.21L340.72 269L341.5 268.8L342.28 268.61L343.06 268.45L343.85 268.3L344.64 268.16L345.43 268.04L346.22 267.92L347.02 267.83L347.81 267.74L348.61 267.66L349.41 267.6L350.21 267.54L351.01 267.5L351.81 267.46L352.61 267.44L353.41 267.42L354.21 267.42L355.01 267.42L355.81 267.44L356.61 267.46L357.42 267.49L358.22 267.53L359.02 267.58L359.82 267.64L360.62 267.7L361.42 267.78L362.22 267.86L363.02 267.95L363.82 268.04L364.62 268.15L365.42 268.26L366.22 268.38L367.02 268.5L367.82 268.63L368.61 268.77L369.41 268.91L370.2 269.06L370.99 269.22L371.78 269.38L372.57 269.55L373.36 269.72L374.15 269.89L374.94 270.08L375.72 270.26L376.51 270.45L377.29 270.65L378.07 270.85L378.85 271.05L379.62 271.26L380.4 271.47L381.17 271.68L381.94 271.9L382.71 272.12L383.47 272.35L384.24 272.57L385 272.8L385 272.8L385.1 273.56L385.2 274.33L385.3 275.11L385.39 275.89L385.48 276.68L385.57 277.47L385.65 278.27L385.74 279.07L385.82 279.88L385.91 280.69L385.99 281.51L386.08 282.32L386.17 283.14L386.26 283.97L386.35 284.79L386.44 285.62L386.54 286.44L386.64 287.27L386.75 288.1L386.86 288.93L386.98 289.75L387.1 290.58L387.23 291.4L387.37 292.22L387.51 293.04L387.66 293.86L387.82 294.67L387.99 295.48L388.17 296.28L388.36 297.08L388.56 297.88L388.77 298.67L388.99 299.45L389.22 300.23L389.46 301L389.72 301.77L389.99 302.52L390.28 303.27L390.57 304.01L390.89 304.74L391.22 305.46L391.56 306.18L391.92 306.88L392.3 307.57L392.69 308.25L393.1 308.92L393.53 309.58L393.98 310.22L394.45 310.85L394.93 311.47L395.43 312.08L395.95 312.68L396.49 313.26L397.04 313.83L397.61 314.38L398.19 314.93L398.79 315.46L399.4 315.97L400.03 316.48L400.67 316.97L401.32 317.44L401.99 317.9L402.66 318.35L403.35 318.79L404.05 319.21L404.76 319.62L405.47 320.01L406.2 320.39L406.94 320.75L407.68 321.1L408.44 321.43L409.2 321.75L409.96 322.06L410.74 322.35L411.52 322.63L412.3 322.89L413.09 323.13L413.89 323.36L414.69 323.58L415.49 323.78L416.29 323.96L417.1 324.13L417.91 324.28L418.72 324.42L419.54 324.54L420.35 324.64L421.16 324.73L421.98 324.8L422.79 324.86L423.6 324.9L423.6 324.9L423.95 325.66L424.26 326.47L424.55 327.3L424.85 328.14L425.17 328.94L425.53 329.7L425.95 330.39L426.44 330.99L427.01 331.5L427.64 331.91L428.34 332.24L429.09 332.49L429.86 332.7L430.66 332.86L431.47 332.99L432.28 333.09L433.11 333.17L433.94 333.23L434.78 333.26L435.62 333.27L436.47 333.27L437.32 333.25L438.17 333.23L439.03 333.19L439.89 333.14L440.75 333.09L441.62 333.03L442.48 332.97L443.34 332.92L444.2 332.87L445.05 332.82L445.9 332.78L446.75 332.75L447.59 332.73L448.43 332.73L449.26 332.74L450.08 332.77L450.9 332.82L451.7 332.9L452.5 333" fill="none" stroke="#62a983" stroke-width="2.0" stroke-linejoin="round" stroke-linecap="round"/>
<path d="M511.6 316.4L512.43 316.37L513.26 316.34L514.08 316.33L514.91 316.32L515.73 316.33L516.56 316.34L517.38 316.36L518.2 316.39L519.02 316.43L519.83 316.48L520.65 316.54L521.47 316.61L522.28 316.68L523.09 316.76L523.9 316.85L524.71 316.95L525.52 317.06L526.33 317.17L527.13 317.29L527.94 317.42L528.74 317.56L529.54 317.7L530.34 317.85L531.14 318.01L531.94 318.17L532.74 318.34L533.53 318.52L534.33 318.7L535.12 318.89L535.91 319.09L536.7 319.29L537.49 319.5L538.28 319.72L539.06 319.94L539.85 320.17L540.63 320.4L541.42 320.64L542.2 320.88L542.98 321.13L543.76 321.38L544.53 321.64L545.31 321.9L546.08 322.17L546.86 322.44L547.63 322.72L548.4 323L548.4 323L549.01 323.53L549.57 324.1L550.09 324.71L550.56 325.35L550.99 326.01L551.39 326.7L551.75 327.4L552.09 328.12L552.41 328.86L552.72 329.6L553.01 330.34L553.29 331.09L553.56 331.84L553.84 332.59L554.1 333.33L554.36 334.07L554.62 334.82L554.87 335.56L555.12 336.31L555.36 337.05L555.6 337.8L555.83 338.54L556.06 339.29L556.29 340.04L556.51 340.79L556.73 341.55L556.94 342.31L557.16 343.06L557.37 343.83L557.57 344.59L557.77 345.36L557.97 346.14L558.17 346.92L558.36 347.7L558.55 348.49L558.74 349.28L558.93 350.07L559.12 350.87L559.31 351.67L559.49 352.47L559.68 353.27L559.87 354.08L560.06 354.89L560.26 355.69L560.46 356.5L560.66 357.3L560.86 358.11L561.07 358.91L561.28 359.72L561.5 360.51L561.72 361.31L561.95 362.11L562.19 362.9L562.44 363.68L562.69 364.47L562.95 365.24L563.22 366.02L563.5 366.78L563.79 367.54L564.09 368.3L564.4 369.04L564.72 369.78L565.06 370.51L565.4 371.24L565.76 371.95L566.13 372.66L566.52 373.36L566.92 374.04L567.34 374.72L567.77 375.38L568.22 376.04L568.69 376.68L569.17 377.31L569.67 377.93L570.18 378.53L570.72 379.12L571.27 379.7L571.85 380.26L572.44 380.81L573.06 381.34L573.69 381.86L574.33 382.36L574.99 382.84L575.67 383.3L576.36 383.74L577.06 384.17L577.78 384.57L578.5 384.95L579.24 385.31L579.98 385.64L580.73 385.95L581.48 386.24L582.25 386.5L583.01 386.74L583.78 386.95L584.55 387.13L585.33 387.28L586.1 387.4L586.87 387.5L587.65 387.56L588.41 387.59L589.18 387.59L589.94 387.56L590.7 387.49L591.44 387.39L592.19 387.25L592.92 387.08L593.64 386.87L594.35 386.63L595.05 386.34L595.74 386.02L596.42 385.66L597.08 385.26L597.72 384.82L598.36 384.35L598.98 383.85L599.59 383.32L600.18 382.76L600.76 382.17L601.33 381.56L601.89 380.92L602.43 380.27L602.96 379.59L603.48 378.9L603.99 378.2L604.49 377.48L604.97 376.75L605.44 376L605.9 375.25L606.35 374.5L606.79 373.74L607.21 372.98L607.63 372.22L608.03 371.46L608.43 370.7L608.81 369.95L609.18 369.21L609.54 368.47L609.89 367.75L610.23 367.03L610.56 366.31L610.88 365.6L611.19 364.89L611.5 364.19L611.79 363.49L612.07 362.78L612.34 362.08L612.6 361.37L612.86 360.66L613.1 359.95L613.33 359.23L613.56 358.5L613.78 357.77L613.99 357.03L614.19 356.28L614.38 355.52L614.56 354.75L614.74 353.97L614.91 353.18L615.08 352.39L615.25 351.6L615.41 350.79L615.56 349.99L615.72 349.17L615.88 348.36L616.03 347.54L616.19 346.73L616.35 345.91L616.51 345.09L616.67 344.27L616.84 343.45L617.01 342.63L617.19 341.82L617.38 341.01L617.57 340.2L617.77 339.4L617.98 338.6L618.19 337.81L618.42 337.03L618.66 336.25L618.91 335.48L619.18 334.72L619.46 333.97L619.75 333.23L620.05 332.5L620.38 331.78L620.72 331.08L621.08 330.39L621.47 329.72L621.89 329.08L622.33 328.45L622.82 327.86L623.33 327.29L623.87 326.74L624.45 326.21L625.04 325.71L625.67 325.23L626.31 324.78L626.97 324.34L627.65 323.91L628.34 323.51L629.05 323.13L629.77 322.75L630.49 322.4L631.22 322.06L631.96 321.73L632.7 321.41L633.44 321.11L634.19 320.81L634.94 320.53L635.7 320.26L636.46 320L637.22 319.76L637.98 319.52L638.75 319.3L639.52 319.08L640.3 318.88L641.07 318.68L641.85 318.49L642.64 318.32L643.42 318.15L644.21 317.99L645 317.84L645.79 317.7L646.58 317.57L647.37 317.45L648.17 317.33L648.97 317.22L649.77 317.12L650.57 317.02L651.37 316.94L652.18 316.86L652.99 316.78L653.79 316.71L654.6 316.65L655.41 316.59L656.22 316.54L657.03 316.5L657.84 316.46L658.65 316.42L659.46 316.39L660.28 316.36L661.09 316.34L661.9 316.32L662.71 316.3L663.52 316.29L664.34 316.28L665.15 316.27L665.96 316.27L666.77 316.27L667.58 316.27L668.39 316.27L669.2 316.28L670.01 316.28L670.81 316.29L671.62 316.3L672.42 316.31L673.23 316.32L674.03 316.33L674.83 316.34L675.63 316.35L676.42 316.36L677.22 316.37L678.01 316.38L678.8 316.39L679.59 316.39L680.38 316.4L681.16 316.4L681.94 316.4L682.72 316.4L683.5 316.4" fill="none" stroke="#f8bd70" stroke-width="2.0" stroke-linejoin="round" stroke-linecap="round"/>
<path d="M511.6 316.2L511.96 316.93L512.32 317.66L512.68 318.39L513.04 319.12L513.4 319.85L513.76 320.58L514.11 321.31L514.47 322.04L514.83 322.77L515.18 323.51L515.54 324.24L515.89 324.97L516.25 325.71L516.6 326.44L516.95 327.18L517.3 327.91L517.65 328.65L518 329.39L518.35 330.12L518.69 330.86L519.04 331.6L519.38 332.34L519.72 333.08L520.06 333.82L520.4 334.56L520.74 335.3L521.07 336.05L521.41 336.79L521.74 337.54L522.07 338.28L522.4 339.03L522.72 339.77L523.05 340.52L523.37 341.27L523.69 342.02L524.01 342.77L524.32 343.52L524.64 344.27L524.95 345.02L525.25 345.77L525.56 346.53L525.86 347.28L526.16 348.04L526.46 348.8L526.76 349.55L527.05 350.31L527.34 351.07L527.62 351.83L527.91 352.6L528.19 353.36L528.47 354.12L528.74 354.89L529.01 355.65L529.28 356.42L529.54 357.19L529.8 357.96L530.06 358.73L530.32 359.5L530.57 360.27L530.81 361.05L531.06 361.82L531.3 362.6L531.53 363.37L531.76 364.15L531.99 364.93L532.22 365.71L532.44 366.5L532.65 367.28L532.86 368.06L533.07 368.85L533.27 369.64L533.47 370.43L533.67 371.22L533.86 372.01L534.04 372.8L534.22 373.6L534.4 374.39L534.57 375.19L534.74 375.99L534.9 376.79L535.06 377.59L535.21 378.39L535.36 379.19L535.5 380L535.5 380L535.92 380.74L536.31 381.49L536.7 382.25L537.07 383.01L537.43 383.79L537.78 384.56L538.12 385.34L538.46 386.13L538.79 386.92L539.12 387.71L539.44 388.5L539.77 389.29L540.1 390.07L540.43 390.86L540.77 391.64L541.12 392.42L541.47 393.2L541.83 393.97L542.21 394.73L542.6 395.49L543 396.23L543.42 396.97L543.86 397.69L544.32 398.41L544.8 399.11L545.3 399.8L545.3 399.8L545.68 399.08L546.03 398.36L546.36 397.62L546.66 396.88L546.94 396.12L547.19 395.36L547.43 394.59L547.64 393.82L547.83 393.03L548.01 392.24L548.17 391.45L548.32 390.65L548.45 389.85L548.57 389.04L548.68 388.22L548.79 387.41L548.88 386.59L548.97 385.77L549.05 384.95L549.13 384.13L549.2 383.31L549.28 382.48L549.35 381.66L549.43 380.84L549.51 380.02L549.59 379.2L549.68 378.39L549.77 377.58L549.86 376.76L549.96 375.95L550.06 375.14L550.16 374.33L550.26 373.53L550.36 372.72L550.47 371.91L550.58 371.11L550.69 370.31L550.8 369.5L550.91 368.7L551.03 367.9L551.14 367.1L551.25 366.3L551.37 365.5L551.49 364.7L551.6 363.9L551.72 363.1L551.83 362.3L551.95 361.5L552.07 360.7L552.18 359.9L552.29 359.1L552.41 358.3L552.52 357.5L552.63 356.7L552.74 355.9L552.84 355.1L552.95 354.29L553.05 353.49L553.15 352.68L553.25 351.88L553.35 351.07L553.44 350.26L553.53 349.45L553.62 348.64L553.71 347.83L553.79 347.01L553.86 346.2L553.94 345.38L554.01 344.56L554.08 343.74L554.14 342.92L554.2 342.09L554.25 341.26L554.3 340.44L554.35 339.61L554.4 338.78L554.46 337.95L554.51 337.12L554.56 336.29L554.62 335.47L554.69 334.64L554.76 333.82L554.84 332.99L554.92 332.17L555.02 331.36L555.12 330.54L555.23 329.73L555.36 328.93L555.5 328.13L555.65 327.33L555.82 326.54L556 325.75L556.2 324.97L556.42 324.2L556.65 323.43L556.91 322.67L557.19 321.92L557.49 321.18L557.82 320.45L558.18 319.75L558.59 319.07L559.05 318.44L559.56 317.84L560.14 317.3L560.78 316.82L561.5 316.4L561.5 316.4L612.4 316.4L612.4 316.4L612.65 315.67L612.89 314.94L613.11 314.2L613.32 313.44L613.53 312.69L613.72 311.92L613.9 311.15L614.08 310.37L614.24 309.58L614.4 308.79L614.55 308L614.7 307.2L614.84 306.39L614.97 305.58L615.1 304.77L615.23 303.95L615.35 303.13L615.47 302.31L615.59 301.49L615.71 300.66L615.82 299.83L615.93 299L616.05 298.17L616.16 297.34L616.28 296.51L616.4 295.68L616.52 294.85L616.64 294.02L616.77 293.19L616.9 292.37L617.04 291.54L617.18 290.72L617.32 289.9L617.48 289.09L617.64 288.28L617.81 287.47L617.99 286.67L618.17 285.87L618.37 285.07L618.58 284.29L618.79 283.5L619.02 282.73L619.26 281.96L619.52 281.2L619.78 280.44L620.06 279.7L620.36 278.96L620.67 278.23L620.99 277.5L621.33 276.79L621.69 276.09L622.06 275.4L622.46 274.71L622.87 274.04L623.3 273.38L623.75 272.73L624.21 272.09L624.69 271.47L625.19 270.85L625.71 270.25L626.24 269.66L626.79 269.08L627.35 268.52L627.93 267.97L628.52 267.43L629.13 266.91L629.75 266.4L630.38 265.91L631.03 265.43L631.69 264.97L632.36 264.52L633.05 264.08L633.75 263.67L634.46 263.26L635.18 262.88L635.91 262.51L636.65 262.16L637.4 261.83L638.16 261.51L638.93 261.21L639.7 260.92L640.49 260.65L641.28 260.4L642.07 260.16L642.87 259.94L643.68 259.73L644.49 259.54L645.3 259.37L646.11 259.2L646.93 259.05L647.74 258.92L648.56 258.8L649.37 258.69L650.19 258.6L651 258.52L651.81 258.45L652.61 258.39L653.41 258.35L654.21 258.32L655 258.3L655 258.3L655.11 259.11L655.21 259.91L655.3 260.72L655.39 261.53L655.46 262.33L655.52 263.14L655.58 263.95L655.63 264.76L655.67 265.57L655.71 266.38L655.74 267.19L655.76 268L655.78 268.81L655.79 269.62L655.8 270.43L655.8 271.24L655.8 272.05L655.79 272.86L655.79 273.67L655.78 274.48L655.76 275.29L655.75 276.11L655.73 276.92L655.71 277.73L655.7 278.54L655.68 279.35L655.66 280.16L655.64 280.98L655.62 281.79L655.6 282.6L655.59 283.41L655.58 284.23L655.56 285.04L655.56 285.85L655.55 286.66L655.55 287.47L655.55 288.29L655.56 289.1L655.57 289.91L655.59 290.72L655.61 291.53L655.64 292.34L655.67 293.16L655.71 293.97L655.76 294.78L655.82 295.59L655.88 296.4L655.95 297.21L656.03 298.02L656.12 298.83L656.22 299.64L656.33 300.45L656.45 301.26L656.58 302.06L656.72 302.87L656.88 303.68L657.04 304.49L657.22 305.3L657.41 306.1L657.61 306.91L657.83 307.71L658.07 308.5L658.34 309.27L658.64 310.01L658.96 310.73L659.33 311.42L659.73 312.06L660.18 312.66L660.68 313.21L661.22 313.71L661.82 314.15L662.46 314.54L663.14 314.89L663.86 315.19L664.61 315.45L665.4 315.67L666.21 315.85L667.05 316L667.91 316.12L668.78 316.21L669.67 316.28L670.57 316.32L671.47 316.35L672.38 316.36L673.29 316.35L674.19 316.34L675.09 316.32L675.98 316.29L676.85 316.26L677.7 316.24L678.54 316.21L679.35 316.2L680.13 316.19L680.88 316.2L681.6 316.22L682.27 316.26L682.91 316.32L683.5 316.4" fill="none" stroke="#b285c4" stroke-width="2.0" stroke-linejoin="round" stroke-linecap="round"/>
<rect x="53.7" y="1.2" width="163.9" height="33" fill="#fff" stroke="#707070" stroke-width="1"/>
<line x1="59.5" y1="9.9" x2="81" y2="9.9" stroke="#d23c48" stroke-width="2"/>
<line x1="59.5" y1="24" x2="81" y2="24" stroke="#3e55b1" stroke-width="2"/>
<text x="86.8" y="13.6" font-size="11.6" text-anchor="start" fill="#d23c48" font-weight="normal">Feedrate limits</text>
<text x="86.8" y="27.6" font-size="11.6" text-anchor="start" fill="#3e55b1" font-weight="normal">Scheduled feedrate profiles</text>
<rect x="300.5" y="345.1" width="70.5" height="47.3" fill="#fff" stroke="#404040" stroke-width="1"/>
<line x1="307.2" y1="353.3" x2="334.8" y2="353.3" stroke="#3e55b1" stroke-width="1.8"/>
<text x="358" y="357.2" font-size="11.8" text-anchor="middle" fill="#262626" font-weight="normal">X</text>
<line x1="307.2" y1="368.2" x2="334.8" y2="368.2" stroke="#d23c48" stroke-width="1.8"/>
<text x="358" y="372.1" font-size="11.8" text-anchor="middle" fill="#262626" font-weight="normal">Y</text>
<line x1="307.2" y1="384" x2="334.8" y2="384" stroke="#62a983" stroke-width="1.8"/>
<text x="358" y="387.9" font-size="11.8" text-anchor="middle" fill="#262626" font-weight="normal">Z</text>
<rect x="613.5" y="372.9" width="67.3" height="38" fill="#fff" stroke="#404040" stroke-width="1"/>
<line x1="617.2" y1="381.9" x2="644.8" y2="381.9" stroke="#f8bd70" stroke-width="1.8"/>
<text x="667.7" y="385.8" font-size="11.8" text-anchor="middle" fill="#262626" font-weight="normal">A</text>
<line x1="617.2" y1="398.4" x2="644.8" y2="398.4" stroke="#b285c4" stroke-width="1.8"/>
<text x="667.7" y="402.3" font-size="11.8" text-anchor="middle" fill="#262626" font-weight="normal">C</text>
<text x="512.8" y="15.6" font-size="14" fill="#262626"><tspan font-size="15" dy="1.3">×</tspan><tspan dx="3.4" dy="-1.3">10</tspan><tspan font-size="11" dx="1.0" dy="-6.9">3</tspan></text>
<text x="49.5" y="246.4" font-size="14" fill="#262626"><tspan font-size="15" dy="1.3">×</tspan><tspan dx="3.4" dy="-1.3">10</tspan><tspan font-size="11" dx="1.0" dy="-6.9">4</tspan></text>
<text x="512.8" y="246.4" font-size="14" fill="#262626"><tspan font-size="15" dy="1.3">×</tspan><tspan dx="3.4" dy="-1.3">10</tspan><tspan font-size="11" dx="1.0" dy="-6.9">-5</tspan></text>
<text x="14.1" y="102.2" font-size="14.4" text-anchor="middle" fill="#262626" transform="rotate(-90 14.1 102.2)">Feedrate(mm/s)</text>
<text x="247.6" y="102.2" font-size="14.4" text-anchor="middle" fill="#262626" transform="rotate(-90 247.6 102.2)">Feedrate(mm/s)</text>
<text x="480.7" y="102.2" font-size="14.4" text-anchor="middle" fill="#262626" transform="rotate(-90 480.7 102.2)">Acceleration(mm/s<tspan font-size="11.5" dy="-5.8">2</tspan><tspan dx="0.8" dy="5.8">)</tspan></text>
<text x="16.1" y="333.2" font-size="14.4" text-anchor="middle" fill="#262626" transform="rotate(-90 16.1 333.2)">Jerk(mm/s<tspan font-size="11.5" dy="-5.8">3</tspan><tspan dx="0.8" dy="5.8">)</tspan></text>
<text x="247.3" y="333.2" font-size="14.4" text-anchor="middle" fill="#262626" transform="rotate(-90 247.3 333.2)">Tracking error(mm)</text>
<text x="478.3" y="333.2" font-size="14.4" text-anchor="middle" fill="#262626" transform="rotate(-90 478.3 333.2)">Tracking error(rad)</text>
<text x="135" y="220" font-size="14.4" text-anchor="middle" fill="#262626">Parameter</text>
<text x="366" y="220" font-size="14.4" text-anchor="middle" fill="#262626"><tspan font-style="italic">t</tspan> (s)</text>
<text x="597.5" y="220" font-size="14.4" text-anchor="middle" fill="#262626"><tspan font-style="italic">t</tspan> (s)</text>
<text x="135" y="451.5" font-size="14.4" text-anchor="middle" fill="#262626"><tspan font-style="italic">t</tspan> (s)</text>
<text x="366" y="451.5" font-size="14.4" text-anchor="middle" fill="#262626"><tspan font-style="italic">t</tspan> (s)</text>
<text x="597.5" y="451.5" font-size="14.4" text-anchor="middle" fill="#262626"><tspan font-style="italic">t</tspan> (s)</text>
<text x="1.3" y="24.1" font-size="17" text-anchor="start" fill="#000" font-weight="bold">(a)</text>
<text x="233.8" y="24.1" font-size="17" text-anchor="start" fill="#000" font-weight="bold">(b)</text>
<text x="466" y="24.1" font-size="17" text-anchor="start" fill="#000" font-weight="bold">(c)</text>
<text x="0.9" y="251.8" font-size="17" text-anchor="start" fill="#000" font-weight="bold">(d)</text>
<text x="234.6" y="251.8" font-size="17" text-anchor="start" fill="#000" font-weight="bold">(e)</text>
<text x="466.8" y="251.8" font-size="17" text-anchor="start" fill="#000" font-weight="bold">(f)</text>
</svg>
</body></html>
